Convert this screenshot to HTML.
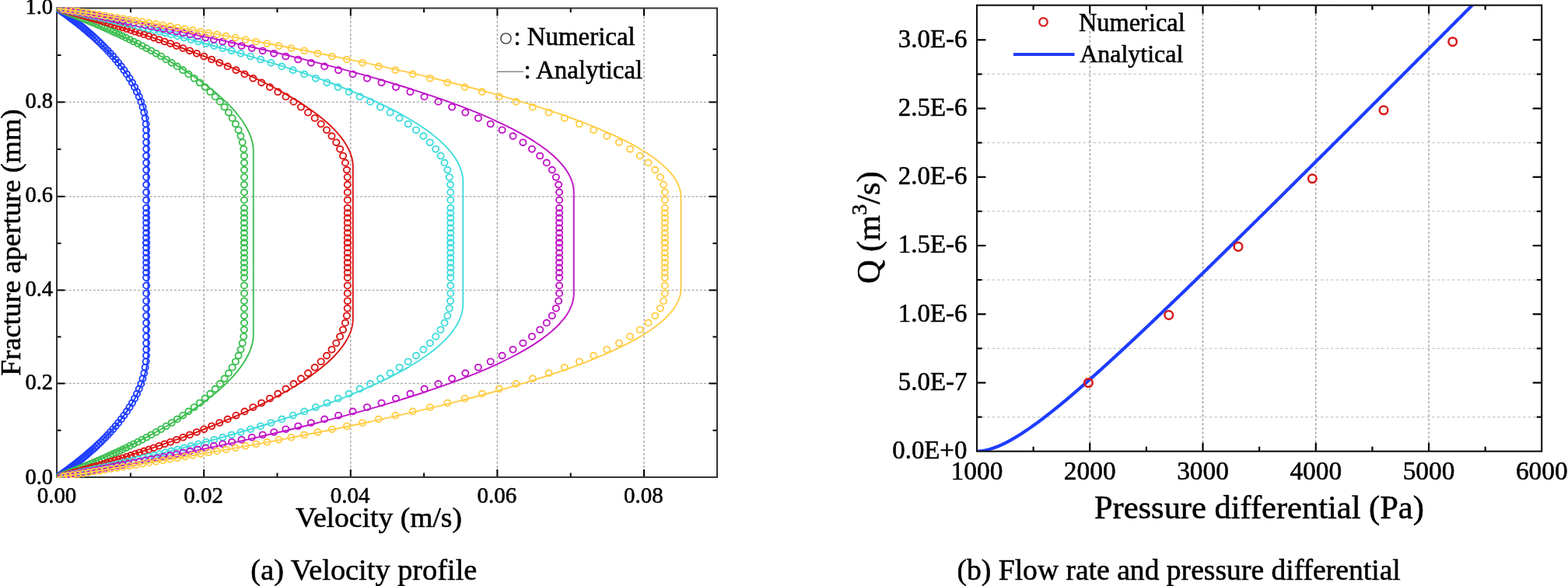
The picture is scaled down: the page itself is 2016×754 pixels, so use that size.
<!DOCTYPE html>
<html><head><meta charset="utf-8"><title>Velocity profile and flow rate</title>
<style>html,body{margin:0;padding:0;background:#fff;}body{width:2016px;height:754px;overflow:hidden;}svg{display:block;}text{fill:#000;stroke:#000;stroke-width:0.55px;}</style>
</head><body>
<svg width="2016" height="754" viewBox="0 0 2016 754" style="font-family:'Liberation Serif','Times New Roman',serif"><clipPath id="lc"><rect x="72" y="9.5" width="851" height="605.5"/></clipPath><line x1="262.20" y1="10.5" x2="262.20" y2="614" stroke="#9a9a9a" stroke-width="1.25" stroke-dasharray="3 2.4"/><line x1="450.80" y1="10.5" x2="450.80" y2="614" stroke="#9a9a9a" stroke-width="1.25" stroke-dasharray="3 2.4"/><line x1="639.40" y1="10.5" x2="639.40" y2="614" stroke="#9a9a9a" stroke-width="1.25" stroke-dasharray="3 2.4"/><line x1="828.00" y1="10.5" x2="828.00" y2="614" stroke="#9a9a9a" stroke-width="1.25" stroke-dasharray="3 2.4"/><line x1="73" y1="493.40" x2="922" y2="493.40" stroke="#a8a8a8" stroke-width="1.35" stroke-dasharray="3 2.2"/><line x1="73" y1="373.40" x2="922" y2="373.40" stroke="#a8a8a8" stroke-width="1.35" stroke-dasharray="3 2.2"/><line x1="73" y1="252.80" x2="922" y2="252.80" stroke="#a8a8a8" stroke-width="1.35" stroke-dasharray="3 2.2"/><line x1="73" y1="131.40" x2="922" y2="131.40" stroke="#a8a8a8" stroke-width="1.35" stroke-dasharray="3 2.2"/><line x1="167.90" y1="614" x2="167.90" y2="608.5" stroke="#000" stroke-width="2"/><line x1="167.90" y1="10.5" x2="167.90" y2="16.0" stroke="#000" stroke-width="2"/><line x1="262.20" y1="614" x2="262.20" y2="604" stroke="#000" stroke-width="2"/><line x1="262.20" y1="10.5" x2="262.20" y2="20.5" stroke="#000" stroke-width="2"/><line x1="356.50" y1="614" x2="356.50" y2="608.5" stroke="#000" stroke-width="2"/><line x1="356.50" y1="10.5" x2="356.50" y2="16.0" stroke="#000" stroke-width="2"/><line x1="450.80" y1="614" x2="450.80" y2="604" stroke="#000" stroke-width="2"/><line x1="450.80" y1="10.5" x2="450.80" y2="20.5" stroke="#000" stroke-width="2"/><line x1="545.10" y1="614" x2="545.10" y2="608.5" stroke="#000" stroke-width="2"/><line x1="545.10" y1="10.5" x2="545.10" y2="16.0" stroke="#000" stroke-width="2"/><line x1="639.40" y1="614" x2="639.40" y2="604" stroke="#000" stroke-width="2"/><line x1="639.40" y1="10.5" x2="639.40" y2="20.5" stroke="#000" stroke-width="2"/><line x1="733.70" y1="614" x2="733.70" y2="608.5" stroke="#000" stroke-width="2"/><line x1="733.70" y1="10.5" x2="733.70" y2="16.0" stroke="#000" stroke-width="2"/><line x1="828.00" y1="614" x2="828.00" y2="604" stroke="#000" stroke-width="2"/><line x1="828.00" y1="10.5" x2="828.00" y2="20.5" stroke="#000" stroke-width="2"/><line x1="73" y1="553.75" x2="78.5" y2="553.75" stroke="#000" stroke-width="2"/><line x1="922" y1="553.75" x2="916.5" y2="553.75" stroke="#000" stroke-width="2"/><line x1="73" y1="493.40" x2="83.5" y2="493.40" stroke="#000" stroke-width="2"/><line x1="922" y1="493.40" x2="911.5" y2="493.40" stroke="#000" stroke-width="2"/><line x1="73" y1="433.40" x2="78.5" y2="433.40" stroke="#000" stroke-width="2"/><line x1="922" y1="433.40" x2="916.5" y2="433.40" stroke="#000" stroke-width="2"/><line x1="73" y1="373.40" x2="83.5" y2="373.40" stroke="#000" stroke-width="2"/><line x1="922" y1="373.40" x2="911.5" y2="373.40" stroke="#000" stroke-width="2"/><line x1="73" y1="313.10" x2="78.5" y2="313.10" stroke="#000" stroke-width="2"/><line x1="922" y1="313.10" x2="916.5" y2="313.10" stroke="#000" stroke-width="2"/><line x1="73" y1="252.80" x2="83.5" y2="252.80" stroke="#000" stroke-width="2"/><line x1="922" y1="252.80" x2="911.5" y2="252.80" stroke="#000" stroke-width="2"/><line x1="73" y1="192.10" x2="78.5" y2="192.10" stroke="#000" stroke-width="2"/><line x1="922" y1="192.10" x2="916.5" y2="192.10" stroke="#000" stroke-width="2"/><line x1="73" y1="131.40" x2="83.5" y2="131.40" stroke="#000" stroke-width="2"/><line x1="922" y1="131.40" x2="911.5" y2="131.40" stroke="#000" stroke-width="2"/><line x1="73" y1="70.95" x2="78.5" y2="70.95" stroke="#000" stroke-width="2"/><line x1="922" y1="70.95" x2="916.5" y2="70.95" stroke="#000" stroke-width="2"/><rect x="73" y="10.5" width="849" height="603.5" fill="none" stroke="#333" stroke-width="2"/><g fill="none" stroke="#1E3CFF" stroke-width="1.85" clip-path="url(#lc)"><ellipse cx="75.3" cy="612.9" rx="4.1" ry="3.9"/><ellipse cx="76.7" cy="612.0" rx="4.1" ry="3.9"/><ellipse cx="78.0" cy="611.0" rx="4.1" ry="3.9"/><ellipse cx="79.4" cy="610.0" rx="4.1" ry="3.9"/><ellipse cx="80.9" cy="609.0" rx="4.1" ry="3.9"/><ellipse cx="82.4" cy="607.9" rx="4.1" ry="3.9"/><ellipse cx="83.9" cy="606.8" rx="4.1" ry="3.9"/><ellipse cx="85.4" cy="605.7" rx="4.1" ry="3.9"/><ellipse cx="87.0" cy="604.5" rx="4.1" ry="3.9"/><ellipse cx="88.6" cy="603.3" rx="4.1" ry="3.9"/><ellipse cx="90.2" cy="602.1" rx="4.1" ry="3.9"/><ellipse cx="91.9" cy="600.8" rx="4.1" ry="3.9"/><ellipse cx="93.6" cy="599.5" rx="4.1" ry="3.9"/><ellipse cx="95.3" cy="598.2" rx="4.1" ry="3.9"/><ellipse cx="97.1" cy="596.8" rx="4.1" ry="3.9"/><ellipse cx="98.9" cy="595.4" rx="4.1" ry="3.9"/><ellipse cx="100.8" cy="593.9" rx="4.1" ry="3.9"/><ellipse cx="102.7" cy="592.4" rx="4.1" ry="3.9"/><ellipse cx="104.6" cy="590.9" rx="4.1" ry="3.9"/><ellipse cx="106.6" cy="589.3" rx="4.1" ry="3.9"/><ellipse cx="108.5" cy="587.6" rx="4.1" ry="3.9"/><ellipse cx="110.6" cy="585.9" rx="4.1" ry="3.9"/><ellipse cx="112.6" cy="584.1" rx="4.1" ry="3.9"/><ellipse cx="114.7" cy="582.3" rx="4.1" ry="3.9"/><ellipse cx="116.9" cy="580.4" rx="4.1" ry="3.9"/><ellipse cx="119.2" cy="578.4" rx="4.1" ry="3.9"/><ellipse cx="121.7" cy="576.2" rx="4.1" ry="3.9"/><ellipse cx="124.2" cy="573.8" rx="4.1" ry="3.9"/><ellipse cx="126.9" cy="571.3" rx="4.1" ry="3.9"/><ellipse cx="129.6" cy="568.7" rx="4.1" ry="3.9"/><ellipse cx="132.5" cy="565.8" rx="4.1" ry="3.9"/><ellipse cx="135.6" cy="562.7" rx="4.1" ry="3.9"/><ellipse cx="138.7" cy="559.5" rx="4.1" ry="3.9"/><ellipse cx="141.9" cy="556.0" rx="4.1" ry="3.9"/><ellipse cx="145.3" cy="552.3" rx="4.1" ry="3.9"/><ellipse cx="148.7" cy="548.3" rx="4.1" ry="3.9"/><ellipse cx="152.2" cy="544.0" rx="4.1" ry="3.9"/><ellipse cx="155.8" cy="539.4" rx="4.1" ry="3.9"/><ellipse cx="159.4" cy="534.6" rx="4.1" ry="3.9"/><ellipse cx="163.0" cy="529.4" rx="4.1" ry="3.9"/><ellipse cx="166.5" cy="524.0" rx="4.1" ry="3.9"/><ellipse cx="169.9" cy="518.5" rx="4.1" ry="3.9"/><ellipse cx="173.1" cy="512.7" rx="4.1" ry="3.9"/><ellipse cx="176.0" cy="506.6" rx="4.1" ry="3.9"/><ellipse cx="178.8" cy="500.4" rx="4.1" ry="3.9"/><ellipse cx="181.3" cy="493.9" rx="4.1" ry="3.9"/><ellipse cx="183.5" cy="487.1" rx="4.1" ry="3.9"/><ellipse cx="185.3" cy="480.1" rx="4.1" ry="3.9"/><ellipse cx="186.7" cy="472.8" rx="4.1" ry="3.9"/><ellipse cx="187.7" cy="465.3" rx="4.1" ry="3.9"/><ellipse cx="188.1" cy="457.6" rx="4.1" ry="3.9"/><ellipse cx="188.2" cy="449.7" rx="4.1" ry="3.9"/><ellipse cx="188.2" cy="441.5" rx="4.1" ry="3.9"/><ellipse cx="188.2" cy="433.0" rx="4.1" ry="3.9"/><ellipse cx="188.2" cy="424.3" rx="4.1" ry="3.9"/><ellipse cx="188.2" cy="415.4" rx="4.1" ry="3.9"/><ellipse cx="188.2" cy="406.2" rx="4.1" ry="3.9"/><ellipse cx="188.2" cy="396.8" rx="4.1" ry="3.9"/><ellipse cx="188.2" cy="387.2" rx="4.1" ry="3.9"/><ellipse cx="188.2" cy="377.4" rx="4.1" ry="3.9"/><ellipse cx="188.2" cy="367.4" rx="4.1" ry="3.9"/><ellipse cx="188.2" cy="357.2" rx="4.1" ry="3.9"/><ellipse cx="188.2" cy="350.8" rx="4.1" ry="3.9"/><ellipse cx="188.2" cy="344.4" rx="4.1" ry="3.9"/><ellipse cx="188.2" cy="338.0" rx="4.1" ry="3.9"/><ellipse cx="188.2" cy="331.6" rx="4.1" ry="3.9"/><ellipse cx="188.2" cy="325.2" rx="4.1" ry="3.9"/><ellipse cx="188.2" cy="318.8" rx="4.1" ry="3.9"/><ellipse cx="188.2" cy="312.4" rx="4.1" ry="3.9"/><ellipse cx="75.3" cy="11.9" rx="4.1" ry="3.9"/><ellipse cx="76.7" cy="12.8" rx="4.1" ry="3.9"/><ellipse cx="78.0" cy="13.8" rx="4.1" ry="3.9"/><ellipse cx="79.4" cy="14.8" rx="4.1" ry="3.9"/><ellipse cx="80.9" cy="15.8" rx="4.1" ry="3.9"/><ellipse cx="82.4" cy="16.9" rx="4.1" ry="3.9"/><ellipse cx="83.9" cy="18.0" rx="4.1" ry="3.9"/><ellipse cx="85.4" cy="19.1" rx="4.1" ry="3.9"/><ellipse cx="87.0" cy="20.3" rx="4.1" ry="3.9"/><ellipse cx="88.6" cy="21.5" rx="4.1" ry="3.9"/><ellipse cx="90.2" cy="22.7" rx="4.1" ry="3.9"/><ellipse cx="91.9" cy="24.0" rx="4.1" ry="3.9"/><ellipse cx="93.6" cy="25.3" rx="4.1" ry="3.9"/><ellipse cx="95.3" cy="26.6" rx="4.1" ry="3.9"/><ellipse cx="97.1" cy="28.0" rx="4.1" ry="3.9"/><ellipse cx="98.9" cy="29.4" rx="4.1" ry="3.9"/><ellipse cx="100.8" cy="30.9" rx="4.1" ry="3.9"/><ellipse cx="102.7" cy="32.4" rx="4.1" ry="3.9"/><ellipse cx="104.6" cy="33.9" rx="4.1" ry="3.9"/><ellipse cx="106.6" cy="35.5" rx="4.1" ry="3.9"/><ellipse cx="108.5" cy="37.2" rx="4.1" ry="3.9"/><ellipse cx="110.6" cy="38.9" rx="4.1" ry="3.9"/><ellipse cx="112.6" cy="40.7" rx="4.1" ry="3.9"/><ellipse cx="114.7" cy="42.5" rx="4.1" ry="3.9"/><ellipse cx="116.9" cy="44.4" rx="4.1" ry="3.9"/><ellipse cx="119.2" cy="46.4" rx="4.1" ry="3.9"/><ellipse cx="121.7" cy="48.6" rx="4.1" ry="3.9"/><ellipse cx="124.2" cy="51.0" rx="4.1" ry="3.9"/><ellipse cx="126.9" cy="53.5" rx="4.1" ry="3.9"/><ellipse cx="129.6" cy="56.1" rx="4.1" ry="3.9"/><ellipse cx="132.5" cy="59.0" rx="4.1" ry="3.9"/><ellipse cx="135.6" cy="62.1" rx="4.1" ry="3.9"/><ellipse cx="138.7" cy="65.3" rx="4.1" ry="3.9"/><ellipse cx="141.9" cy="68.8" rx="4.1" ry="3.9"/><ellipse cx="145.3" cy="72.5" rx="4.1" ry="3.9"/><ellipse cx="148.7" cy="76.5" rx="4.1" ry="3.9"/><ellipse cx="152.2" cy="80.8" rx="4.1" ry="3.9"/><ellipse cx="155.8" cy="85.4" rx="4.1" ry="3.9"/><ellipse cx="159.4" cy="90.2" rx="4.1" ry="3.9"/><ellipse cx="163.0" cy="95.4" rx="4.1" ry="3.9"/><ellipse cx="166.5" cy="100.8" rx="4.1" ry="3.9"/><ellipse cx="169.9" cy="106.3" rx="4.1" ry="3.9"/><ellipse cx="173.1" cy="112.1" rx="4.1" ry="3.9"/><ellipse cx="176.0" cy="118.2" rx="4.1" ry="3.9"/><ellipse cx="178.8" cy="124.4" rx="4.1" ry="3.9"/><ellipse cx="181.3" cy="130.9" rx="4.1" ry="3.9"/><ellipse cx="183.5" cy="137.7" rx="4.1" ry="3.9"/><ellipse cx="185.3" cy="144.7" rx="4.1" ry="3.9"/><ellipse cx="186.7" cy="152.0" rx="4.1" ry="3.9"/><ellipse cx="187.7" cy="159.5" rx="4.1" ry="3.9"/><ellipse cx="188.1" cy="167.2" rx="4.1" ry="3.9"/><ellipse cx="188.2" cy="175.1" rx="4.1" ry="3.9"/><ellipse cx="188.2" cy="183.3" rx="4.1" ry="3.9"/><ellipse cx="188.2" cy="191.8" rx="4.1" ry="3.9"/><ellipse cx="188.2" cy="200.5" rx="4.1" ry="3.9"/><ellipse cx="188.2" cy="209.4" rx="4.1" ry="3.9"/><ellipse cx="188.2" cy="218.6" rx="4.1" ry="3.9"/><ellipse cx="188.2" cy="228.0" rx="4.1" ry="3.9"/><ellipse cx="188.2" cy="237.6" rx="4.1" ry="3.9"/><ellipse cx="188.2" cy="247.4" rx="4.1" ry="3.9"/><ellipse cx="188.2" cy="257.4" rx="4.1" ry="3.9"/><ellipse cx="188.2" cy="267.6" rx="4.1" ry="3.9"/><ellipse cx="188.2" cy="274.0" rx="4.1" ry="3.9"/><ellipse cx="188.2" cy="280.4" rx="4.1" ry="3.9"/><ellipse cx="188.2" cy="286.8" rx="4.1" ry="3.9"/><ellipse cx="188.2" cy="293.2" rx="4.1" ry="3.9"/><ellipse cx="188.2" cy="299.6" rx="4.1" ry="3.9"/><ellipse cx="188.2" cy="306.0" rx="4.1" ry="3.9"/><ellipse cx="188.2" cy="312.4" rx="4.1" ry="3.9"/></g><path d="M73.60 614.10L75.74 612.59L77.86 611.08L79.96 609.57L82.04 608.07L84.10 606.56L86.14 605.05L88.16 603.54L90.16 602.03L92.15 600.52L94.11 599.01L96.05 597.51L97.97 596.00L99.87 594.49L101.76 592.98L103.62 591.47L105.46 589.96L107.29 588.46L109.09 586.95L110.87 585.44L112.64 583.93L114.38 582.42L116.11 580.91L117.81 579.40L119.50 577.90L121.16 576.39L122.81 574.88L124.43 573.37L126.04 571.86L127.63 570.35L129.19 568.85L130.74 567.34L132.27 565.83L133.78 564.32L135.26 562.81L136.73 561.30L138.18 559.79L139.61 558.29L141.02 556.78L142.41 555.27L143.77 553.76L145.12 552.25L146.45 550.74L147.76 549.23L149.05 547.73L150.32 546.22L151.57 544.71L152.80 543.20L154.02 541.69L155.21 540.18L156.38 538.68L157.53 537.17L158.66 535.66L159.77 534.15L160.87 532.64L161.94 531.13L162.99 529.62L164.03 528.12L165.04 526.61L166.03 525.10L167.01 523.59L167.96 522.08L168.90 520.57L169.81 519.06L170.71 517.56L171.58 516.05L172.44 514.54L173.27 513.03L174.09 511.52L174.88 510.01L175.66 508.51L176.42 507.00L177.15 505.49L177.87 503.98L178.57 502.47L179.25 500.96L179.90 499.45L180.54 497.95L181.16 496.44L181.76 494.93L182.34 493.42L182.90 491.91L183.44 490.40L183.96 488.89L184.46 487.39L184.94 485.88L185.40 484.37L185.84 482.86L186.26 481.35L186.66 479.84L187.04 478.34L187.40 476.83L187.74 475.32L188.07 473.81L188.37 472.30L188.65 470.79L188.91 469.28L189.16 467.78L189.38 466.27L189.58 464.76L189.77 463.25L189.93 461.74L190.08 460.23L190.20 458.72L190.30 457.22L190.39 455.71L190.45 454.20L190.50 452.69L190.53 451.18L190.53 449.67L190.53 448.17L190.53 446.66L190.53 445.15L190.53 443.64L190.53 442.13L190.53 440.62L190.53 439.11L190.53 437.61L190.53 436.10L190.53 434.59L190.53 433.08L190.53 431.57L190.53 430.06L190.53 428.55L190.53 427.05L190.53 425.54L190.53 424.03L190.53 422.52L190.53 421.01L190.53 419.50L190.53 418.00L190.53 416.49L190.53 414.98L190.53 413.47L190.53 411.96L190.53 410.45L190.53 408.94L190.53 407.44L190.53 405.93L190.53 404.42L190.53 402.91L190.53 401.40L190.53 399.89L190.53 398.38L190.53 396.88L190.53 395.37L190.53 393.86L190.53 392.35L190.53 390.84L190.53 389.33L190.53 387.83L190.53 386.32L190.53 384.81L190.53 383.30L190.53 381.79L190.53 380.28L190.53 378.77L190.53 377.27L190.53 375.76L190.53 374.25L190.53 372.74L190.53 371.23L190.53 369.72L190.53 368.21L190.53 366.71L190.53 365.20L190.53 363.69L190.53 362.18L190.53 360.67L190.53 359.16L190.53 357.66L190.53 356.15L190.53 354.64L190.53 353.13L190.53 351.62L190.53 350.11L190.53 348.60L190.53 347.10L190.53 345.59L190.53 344.08L190.53 342.57L190.53 341.06L190.53 339.55L190.53 338.04L190.53 336.54L190.53 335.03L190.53 333.52L190.53 332.01L190.53 330.50L190.53 328.99L190.53 327.49L190.53 325.98L190.53 324.47L190.53 322.96L190.53 321.45L190.53 319.94L190.53 318.43L190.53 316.93L190.53 315.42L190.53 313.91L190.53 312.40L190.53 310.89L190.53 309.38L190.53 307.87L190.53 306.37L190.53 304.86L190.53 303.35L190.53 301.84L190.53 300.33L190.53 298.82L190.53 297.31L190.53 295.81L190.53 294.30L190.53 292.79L190.53 291.28L190.53 289.77L190.53 288.26L190.53 286.76L190.53 285.25L190.53 283.74L190.53 282.23L190.53 280.72L190.53 279.21L190.53 277.70L190.53 276.20L190.53 274.69L190.53 273.18L190.53 271.67L190.53 270.16L190.53 268.65L190.53 267.15L190.53 265.64L190.53 264.13L190.53 262.62L190.53 261.11L190.53 259.60L190.53 258.09L190.53 256.59L190.53 255.08L190.53 253.57L190.53 252.06L190.53 250.55L190.53 249.04L190.53 247.53L190.53 246.03L190.53 244.52L190.53 243.01L190.53 241.50L190.53 239.99L190.53 238.48L190.53 236.98L190.53 235.47L190.53 233.96L190.53 232.45L190.53 230.94L190.53 229.43L190.53 227.92L190.53 226.42L190.53 224.91L190.53 223.40L190.53 221.89L190.53 220.38L190.53 218.87L190.53 217.36L190.53 215.86L190.53 214.35L190.53 212.84L190.53 211.33L190.53 209.82L190.53 208.31L190.53 206.81L190.53 205.30L190.53 203.79L190.53 202.28L190.53 200.77L190.53 199.26L190.53 197.75L190.53 196.25L190.53 194.74L190.53 193.23L190.53 191.72L190.53 190.21L190.53 188.70L190.53 187.19L190.53 185.69L190.53 184.18L190.53 182.67L190.53 181.16L190.53 179.65L190.53 178.14L190.53 176.64L190.53 175.13L190.53 173.62L190.50 172.11L190.45 170.60L190.39 169.09L190.30 167.58L190.20 166.08L190.08 164.57L189.93 163.06L189.77 161.55L189.58 160.04L189.38 158.53L189.16 157.02L188.91 155.52L188.65 154.01L188.37 152.50L188.07 150.99L187.74 149.48L187.40 147.97L187.04 146.47L186.66 144.96L186.26 143.45L185.84 141.94L185.40 140.43L184.94 138.92L184.46 137.41L183.96 135.91L183.44 134.40L182.90 132.89L182.34 131.38L181.76 129.87L181.16 128.36L180.54 126.85L179.90 125.35L179.25 123.84L178.57 122.33L177.87 120.82L177.15 119.31L176.42 117.80L175.66 116.30L174.88 114.79L174.09 113.28L173.27 111.77L172.44 110.26L171.58 108.75L170.71 107.24L169.81 105.74L168.90 104.23L167.96 102.72L167.01 101.21L166.03 99.70L165.04 98.19L164.03 96.68L162.99 95.18L161.94 93.67L160.87 92.16L159.77 90.65L158.66 89.14L157.53 87.63L156.38 86.12L155.21 84.62L154.02 83.11L152.80 81.60L151.57 80.09L150.32 78.58L149.05 77.07L147.76 75.57L146.45 74.06L145.12 72.55L143.77 71.04L142.41 69.53L141.02 68.02L139.61 66.51L138.18 65.01L136.73 63.50L135.26 61.99L133.78 60.48L132.27 58.97L130.74 57.46L129.19 55.96L127.63 54.45L126.04 52.94L124.43 51.43L122.81 49.92L121.16 48.41L119.50 46.90L117.81 45.40L116.11 43.89L114.38 42.38L112.64 40.87L110.87 39.36L109.09 37.85L107.29 36.34L105.46 34.84L103.62 33.33L101.76 31.82L99.87 30.31L97.97 28.80L96.05 27.29L94.11 25.79L92.15 24.28L90.16 22.77L88.16 21.26L86.14 19.75L84.10 18.24L82.04 16.73L79.96 15.23L77.86 13.72L75.74 12.21L73.60 10.70" fill="none" stroke="#1E3CFF" stroke-width="1.9"/><g fill="none" stroke="#3CBE50" stroke-width="1.85" clip-path="url(#lc)"><ellipse cx="76.7" cy="612.9" rx="4.1" ry="3.9"/><ellipse cx="79.2" cy="612.0" rx="4.1" ry="3.9"/><ellipse cx="81.7" cy="611.0" rx="4.1" ry="3.9"/><ellipse cx="84.2" cy="610.0" rx="4.1" ry="3.9"/><ellipse cx="86.9" cy="609.0" rx="4.1" ry="3.9"/><ellipse cx="89.5" cy="607.9" rx="4.1" ry="3.9"/><ellipse cx="92.3" cy="606.8" rx="4.1" ry="3.9"/><ellipse cx="95.1" cy="605.7" rx="4.1" ry="3.9"/><ellipse cx="98.0" cy="604.5" rx="4.1" ry="3.9"/><ellipse cx="100.9" cy="603.3" rx="4.1" ry="3.9"/><ellipse cx="103.9" cy="602.1" rx="4.1" ry="3.9"/><ellipse cx="107.0" cy="600.8" rx="4.1" ry="3.9"/><ellipse cx="110.1" cy="599.5" rx="4.1" ry="3.9"/><ellipse cx="113.3" cy="598.2" rx="4.1" ry="3.9"/><ellipse cx="116.6" cy="596.8" rx="4.1" ry="3.9"/><ellipse cx="119.9" cy="595.4" rx="4.1" ry="3.9"/><ellipse cx="123.4" cy="593.9" rx="4.1" ry="3.9"/><ellipse cx="126.8" cy="592.4" rx="4.1" ry="3.9"/><ellipse cx="130.4" cy="590.9" rx="4.1" ry="3.9"/><ellipse cx="134.0" cy="589.3" rx="4.1" ry="3.9"/><ellipse cx="137.7" cy="587.6" rx="4.1" ry="3.9"/><ellipse cx="141.5" cy="585.9" rx="4.1" ry="3.9"/><ellipse cx="145.3" cy="584.1" rx="4.1" ry="3.9"/><ellipse cx="149.2" cy="582.3" rx="4.1" ry="3.9"/><ellipse cx="153.3" cy="580.4" rx="4.1" ry="3.9"/><ellipse cx="157.6" cy="578.4" rx="4.1" ry="3.9"/><ellipse cx="162.1" cy="576.2" rx="4.1" ry="3.9"/><ellipse cx="166.9" cy="573.8" rx="4.1" ry="3.9"/><ellipse cx="171.9" cy="571.3" rx="4.1" ry="3.9"/><ellipse cx="177.2" cy="568.7" rx="4.1" ry="3.9"/><ellipse cx="182.7" cy="565.8" rx="4.1" ry="3.9"/><ellipse cx="188.4" cy="562.7" rx="4.1" ry="3.9"/><ellipse cx="194.4" cy="559.5" rx="4.1" ry="3.9"/><ellipse cx="200.7" cy="556.0" rx="4.1" ry="3.9"/><ellipse cx="207.1" cy="552.3" rx="4.1" ry="3.9"/><ellipse cx="213.8" cy="548.3" rx="4.1" ry="3.9"/><ellipse cx="220.7" cy="544.0" rx="4.1" ry="3.9"/><ellipse cx="227.8" cy="539.4" rx="4.1" ry="3.9"/><ellipse cx="235.1" cy="534.6" rx="4.1" ry="3.9"/><ellipse cx="242.4" cy="529.4" rx="4.1" ry="3.9"/><ellipse cx="249.7" cy="524.0" rx="4.1" ry="3.9"/><ellipse cx="256.7" cy="518.5" rx="4.1" ry="3.9"/><ellipse cx="263.6" cy="512.7" rx="4.1" ry="3.9"/><ellipse cx="270.3" cy="506.6" rx="4.1" ry="3.9"/><ellipse cx="276.7" cy="500.4" rx="4.1" ry="3.9"/><ellipse cx="282.8" cy="493.9" rx="4.1" ry="3.9"/><ellipse cx="288.6" cy="487.1" rx="4.1" ry="3.9"/><ellipse cx="293.9" cy="480.1" rx="4.1" ry="3.9"/><ellipse cx="298.7" cy="472.8" rx="4.1" ry="3.9"/><ellipse cx="302.9" cy="465.3" rx="4.1" ry="3.9"/><ellipse cx="306.6" cy="457.6" rx="4.1" ry="3.9"/><ellipse cx="309.5" cy="449.7" rx="4.1" ry="3.9"/><ellipse cx="311.7" cy="441.5" rx="4.1" ry="3.9"/><ellipse cx="313.2" cy="433.0" rx="4.1" ry="3.9"/><ellipse cx="313.9" cy="424.3" rx="4.1" ry="3.9"/><ellipse cx="314.0" cy="415.4" rx="4.1" ry="3.9"/><ellipse cx="314.0" cy="406.2" rx="4.1" ry="3.9"/><ellipse cx="314.0" cy="396.8" rx="4.1" ry="3.9"/><ellipse cx="314.0" cy="387.2" rx="4.1" ry="3.9"/><ellipse cx="314.0" cy="377.4" rx="4.1" ry="3.9"/><ellipse cx="314.0" cy="367.4" rx="4.1" ry="3.9"/><ellipse cx="314.0" cy="357.2" rx="4.1" ry="3.9"/><ellipse cx="314.0" cy="350.8" rx="4.1" ry="3.9"/><ellipse cx="314.0" cy="344.4" rx="4.1" ry="3.9"/><ellipse cx="314.0" cy="338.0" rx="4.1" ry="3.9"/><ellipse cx="314.0" cy="331.6" rx="4.1" ry="3.9"/><ellipse cx="314.0" cy="325.2" rx="4.1" ry="3.9"/><ellipse cx="314.0" cy="318.8" rx="4.1" ry="3.9"/><ellipse cx="314.0" cy="312.4" rx="4.1" ry="3.9"/><ellipse cx="76.7" cy="11.9" rx="4.1" ry="3.9"/><ellipse cx="79.2" cy="12.8" rx="4.1" ry="3.9"/><ellipse cx="81.7" cy="13.8" rx="4.1" ry="3.9"/><ellipse cx="84.2" cy="14.8" rx="4.1" ry="3.9"/><ellipse cx="86.9" cy="15.8" rx="4.1" ry="3.9"/><ellipse cx="89.5" cy="16.9" rx="4.1" ry="3.9"/><ellipse cx="92.3" cy="18.0" rx="4.1" ry="3.9"/><ellipse cx="95.1" cy="19.1" rx="4.1" ry="3.9"/><ellipse cx="98.0" cy="20.3" rx="4.1" ry="3.9"/><ellipse cx="100.9" cy="21.5" rx="4.1" ry="3.9"/><ellipse cx="103.9" cy="22.7" rx="4.1" ry="3.9"/><ellipse cx="107.0" cy="24.0" rx="4.1" ry="3.9"/><ellipse cx="110.1" cy="25.3" rx="4.1" ry="3.9"/><ellipse cx="113.3" cy="26.6" rx="4.1" ry="3.9"/><ellipse cx="116.6" cy="28.0" rx="4.1" ry="3.9"/><ellipse cx="119.9" cy="29.4" rx="4.1" ry="3.9"/><ellipse cx="123.4" cy="30.9" rx="4.1" ry="3.9"/><ellipse cx="126.8" cy="32.4" rx="4.1" ry="3.9"/><ellipse cx="130.4" cy="33.9" rx="4.1" ry="3.9"/><ellipse cx="134.0" cy="35.5" rx="4.1" ry="3.9"/><ellipse cx="137.7" cy="37.2" rx="4.1" ry="3.9"/><ellipse cx="141.5" cy="38.9" rx="4.1" ry="3.9"/><ellipse cx="145.3" cy="40.7" rx="4.1" ry="3.9"/><ellipse cx="149.2" cy="42.5" rx="4.1" ry="3.9"/><ellipse cx="153.3" cy="44.4" rx="4.1" ry="3.9"/><ellipse cx="157.6" cy="46.4" rx="4.1" ry="3.9"/><ellipse cx="162.1" cy="48.6" rx="4.1" ry="3.9"/><ellipse cx="166.9" cy="51.0" rx="4.1" ry="3.9"/><ellipse cx="171.9" cy="53.5" rx="4.1" ry="3.9"/><ellipse cx="177.2" cy="56.1" rx="4.1" ry="3.9"/><ellipse cx="182.7" cy="59.0" rx="4.1" ry="3.9"/><ellipse cx="188.4" cy="62.1" rx="4.1" ry="3.9"/><ellipse cx="194.4" cy="65.3" rx="4.1" ry="3.9"/><ellipse cx="200.7" cy="68.8" rx="4.1" ry="3.9"/><ellipse cx="207.1" cy="72.5" rx="4.1" ry="3.9"/><ellipse cx="213.8" cy="76.5" rx="4.1" ry="3.9"/><ellipse cx="220.7" cy="80.8" rx="4.1" ry="3.9"/><ellipse cx="227.8" cy="85.4" rx="4.1" ry="3.9"/><ellipse cx="235.1" cy="90.2" rx="4.1" ry="3.9"/><ellipse cx="242.4" cy="95.4" rx="4.1" ry="3.9"/><ellipse cx="249.7" cy="100.8" rx="4.1" ry="3.9"/><ellipse cx="256.7" cy="106.3" rx="4.1" ry="3.9"/><ellipse cx="263.6" cy="112.1" rx="4.1" ry="3.9"/><ellipse cx="270.3" cy="118.2" rx="4.1" ry="3.9"/><ellipse cx="276.7" cy="124.4" rx="4.1" ry="3.9"/><ellipse cx="282.8" cy="130.9" rx="4.1" ry="3.9"/><ellipse cx="288.6" cy="137.7" rx="4.1" ry="3.9"/><ellipse cx="293.9" cy="144.7" rx="4.1" ry="3.9"/><ellipse cx="298.7" cy="152.0" rx="4.1" ry="3.9"/><ellipse cx="302.9" cy="159.5" rx="4.1" ry="3.9"/><ellipse cx="306.6" cy="167.2" rx="4.1" ry="3.9"/><ellipse cx="309.5" cy="175.1" rx="4.1" ry="3.9"/><ellipse cx="311.7" cy="183.3" rx="4.1" ry="3.9"/><ellipse cx="313.2" cy="191.8" rx="4.1" ry="3.9"/><ellipse cx="313.9" cy="200.5" rx="4.1" ry="3.9"/><ellipse cx="314.0" cy="209.4" rx="4.1" ry="3.9"/><ellipse cx="314.0" cy="218.6" rx="4.1" ry="3.9"/><ellipse cx="314.0" cy="228.0" rx="4.1" ry="3.9"/><ellipse cx="314.0" cy="237.6" rx="4.1" ry="3.9"/><ellipse cx="314.0" cy="247.4" rx="4.1" ry="3.9"/><ellipse cx="314.0" cy="257.4" rx="4.1" ry="3.9"/><ellipse cx="314.0" cy="267.6" rx="4.1" ry="3.9"/><ellipse cx="314.0" cy="274.0" rx="4.1" ry="3.9"/><ellipse cx="314.0" cy="280.4" rx="4.1" ry="3.9"/><ellipse cx="314.0" cy="286.8" rx="4.1" ry="3.9"/><ellipse cx="314.0" cy="293.2" rx="4.1" ry="3.9"/><ellipse cx="314.0" cy="299.6" rx="4.1" ry="3.9"/><ellipse cx="314.0" cy="306.0" rx="4.1" ry="3.9"/><ellipse cx="314.0" cy="312.4" rx="4.1" ry="3.9"/></g><path d="M73.60 614.10L77.39 612.59L81.15 611.08L84.88 609.57L88.59 608.07L92.27 606.56L95.93 605.05L99.56 603.54L103.16 602.03L106.74 600.52L110.29 599.01L113.82 597.51L117.32 596.00L120.79 594.49L124.24 592.98L127.66 591.47L131.05 589.96L134.42 588.46L137.76 586.95L141.07 585.44L144.36 583.93L147.62 582.42L150.85 580.91L154.06 579.40L157.24 577.90L160.40 576.39L163.52 574.88L166.62 573.37L169.70 571.86L172.74 570.35L175.76 568.85L178.75 567.34L181.71 565.83L184.65 564.32L187.56 562.81L190.44 561.30L193.30 559.79L196.12 558.29L198.92 556.78L201.70 555.27L204.44 553.76L207.16 552.25L209.85 550.74L212.51 549.23L215.14 547.73L217.74 546.22L220.32 544.71L222.87 543.20L225.39 541.69L227.88 540.18L230.35 538.68L232.78 537.17L235.19 535.66L237.57 534.15L239.92 532.64L242.24 531.13L244.53 529.62L246.80 528.12L249.03 526.61L251.24 525.10L253.41 523.59L255.56 522.08L257.68 520.57L259.77 519.06L261.83 517.56L263.86 516.05L265.86 514.54L267.83 513.03L269.77 511.52L271.68 510.01L273.56 508.51L275.41 507.00L277.23 505.49L279.02 503.98L280.78 502.47L282.51 500.96L284.21 499.45L285.88 497.95L287.51 496.44L289.12 494.93L290.69 493.42L292.24 491.91L293.75 490.40L295.23 488.89L296.68 487.39L298.10 485.88L299.48 484.37L300.83 482.86L302.15 481.35L303.44 479.84L304.70 478.34L305.92 476.83L307.11 475.32L308.26 473.81L309.39 472.30L310.47 470.79L311.53 469.28L312.55 467.78L313.53 466.27L314.49 464.76L315.40 463.25L316.28 461.74L317.13 460.23L317.94 458.72L318.71 457.22L319.45 455.71L320.15 454.20L320.81 452.69L321.44 451.18L322.02 449.67L322.57 448.17L323.08 446.66L323.55 445.15L323.98 443.64L324.36 442.13L324.70 440.62L325.00 439.11L325.25 437.61L325.46 436.10L325.62 434.59L325.72 433.08L325.76 431.57L325.76 430.06L325.76 428.55L325.76 427.05L325.76 425.54L325.76 424.03L325.76 422.52L325.76 421.01L325.76 419.50L325.76 418.00L325.76 416.49L325.76 414.98L325.76 413.47L325.76 411.96L325.76 410.45L325.76 408.94L325.76 407.44L325.76 405.93L325.76 404.42L325.76 402.91L325.76 401.40L325.76 399.89L325.76 398.38L325.76 396.88L325.76 395.37L325.76 393.86L325.76 392.35L325.76 390.84L325.76 389.33L325.76 387.83L325.76 386.32L325.76 384.81L325.76 383.30L325.76 381.79L325.76 380.28L325.76 378.77L325.76 377.27L325.76 375.76L325.76 374.25L325.76 372.74L325.76 371.23L325.76 369.72L325.76 368.21L325.76 366.71L325.76 365.20L325.76 363.69L325.76 362.18L325.76 360.67L325.76 359.16L325.76 357.66L325.76 356.15L325.76 354.64L325.76 353.13L325.76 351.62L325.76 350.11L325.76 348.60L325.76 347.10L325.76 345.59L325.76 344.08L325.76 342.57L325.76 341.06L325.76 339.55L325.76 338.04L325.76 336.54L325.76 335.03L325.76 333.52L325.76 332.01L325.76 330.50L325.76 328.99L325.76 327.49L325.76 325.98L325.76 324.47L325.76 322.96L325.76 321.45L325.76 319.94L325.76 318.43L325.76 316.93L325.76 315.42L325.76 313.91L325.76 312.40L325.76 310.89L325.76 309.38L325.76 307.87L325.76 306.37L325.76 304.86L325.76 303.35L325.76 301.84L325.76 300.33L325.76 298.82L325.76 297.31L325.76 295.81L325.76 294.30L325.76 292.79L325.76 291.28L325.76 289.77L325.76 288.26L325.76 286.76L325.76 285.25L325.76 283.74L325.76 282.23L325.76 280.72L325.76 279.21L325.76 277.70L325.76 276.20L325.76 274.69L325.76 273.18L325.76 271.67L325.76 270.16L325.76 268.65L325.76 267.15L325.76 265.64L325.76 264.13L325.76 262.62L325.76 261.11L325.76 259.60L325.76 258.09L325.76 256.59L325.76 255.08L325.76 253.57L325.76 252.06L325.76 250.55L325.76 249.04L325.76 247.53L325.76 246.03L325.76 244.52L325.76 243.01L325.76 241.50L325.76 239.99L325.76 238.48L325.76 236.98L325.76 235.47L325.76 233.96L325.76 232.45L325.76 230.94L325.76 229.43L325.76 227.92L325.76 226.42L325.76 224.91L325.76 223.40L325.76 221.89L325.76 220.38L325.76 218.87L325.76 217.36L325.76 215.86L325.76 214.35L325.76 212.84L325.76 211.33L325.76 209.82L325.76 208.31L325.76 206.81L325.76 205.30L325.76 203.79L325.76 202.28L325.76 200.77L325.76 199.26L325.76 197.75L325.76 196.25L325.76 194.74L325.76 193.23L325.72 191.72L325.62 190.21L325.46 188.70L325.25 187.19L325.00 185.69L324.70 184.18L324.36 182.67L323.98 181.16L323.55 179.65L323.08 178.14L322.57 176.64L322.02 175.13L321.44 173.62L320.81 172.11L320.15 170.60L319.45 169.09L318.71 167.58L317.94 166.08L317.13 164.57L316.28 163.06L315.40 161.55L314.49 160.04L313.53 158.53L312.55 157.02L311.53 155.52L310.47 154.01L309.39 152.50L308.26 150.99L307.11 149.48L305.92 147.97L304.70 146.47L303.44 144.96L302.15 143.45L300.83 141.94L299.48 140.43L298.10 138.92L296.68 137.41L295.23 135.91L293.75 134.40L292.24 132.89L290.69 131.38L289.12 129.87L287.51 128.36L285.88 126.85L284.21 125.35L282.51 123.84L280.78 122.33L279.02 120.82L277.23 119.31L275.41 117.80L273.56 116.30L271.68 114.79L269.77 113.28L267.83 111.77L265.86 110.26L263.86 108.75L261.83 107.24L259.77 105.74L257.68 104.23L255.56 102.72L253.41 101.21L251.24 99.70L249.03 98.19L246.80 96.68L244.53 95.18L242.24 93.67L239.92 92.16L237.57 90.65L235.19 89.14L232.78 87.63L230.35 86.12L227.88 84.62L225.39 83.11L222.87 81.60L220.32 80.09L217.74 78.58L215.14 77.07L212.51 75.57L209.85 74.06L207.16 72.55L204.44 71.04L201.70 69.53L198.92 68.02L196.12 66.51L193.30 65.01L190.44 63.50L187.56 61.99L184.65 60.48L181.71 58.97L178.75 57.46L175.76 55.96L172.74 54.45L169.70 52.94L166.62 51.43L163.52 49.92L160.40 48.41L157.24 46.90L154.06 45.40L150.85 43.89L147.62 42.38L144.36 40.87L141.07 39.36L137.76 37.85L134.42 36.34L131.05 34.84L127.66 33.33L124.24 31.82L120.79 30.31L117.32 28.80L113.82 27.29L110.29 25.79L106.74 24.28L103.16 22.77L99.56 21.26L95.93 19.75L92.27 18.24L88.59 16.73L84.88 15.23L81.15 13.72L77.39 12.21L73.60 10.70" fill="none" stroke="#3CBE50" stroke-width="1.9"/><g fill="none" stroke="#DC1414" stroke-width="1.85" clip-path="url(#lc)"><ellipse cx="78.0" cy="612.9" rx="4.1" ry="3.9"/><ellipse cx="81.3" cy="612.0" rx="4.1" ry="3.9"/><ellipse cx="84.8" cy="611.0" rx="4.1" ry="3.9"/><ellipse cx="88.4" cy="610.0" rx="4.1" ry="3.9"/><ellipse cx="92.0" cy="609.0" rx="4.1" ry="3.9"/><ellipse cx="95.7" cy="607.9" rx="4.1" ry="3.9"/><ellipse cx="99.6" cy="606.8" rx="4.1" ry="3.9"/><ellipse cx="103.5" cy="605.7" rx="4.1" ry="3.9"/><ellipse cx="107.5" cy="604.5" rx="4.1" ry="3.9"/><ellipse cx="111.6" cy="603.3" rx="4.1" ry="3.9"/><ellipse cx="115.8" cy="602.1" rx="4.1" ry="3.9"/><ellipse cx="120.1" cy="600.8" rx="4.1" ry="3.9"/><ellipse cx="124.4" cy="599.5" rx="4.1" ry="3.9"/><ellipse cx="128.9" cy="598.2" rx="4.1" ry="3.9"/><ellipse cx="133.5" cy="596.8" rx="4.1" ry="3.9"/><ellipse cx="138.2" cy="595.4" rx="4.1" ry="3.9"/><ellipse cx="143.0" cy="593.9" rx="4.1" ry="3.9"/><ellipse cx="147.9" cy="592.4" rx="4.1" ry="3.9"/><ellipse cx="152.9" cy="590.9" rx="4.1" ry="3.9"/><ellipse cx="157.9" cy="589.3" rx="4.1" ry="3.9"/><ellipse cx="163.1" cy="587.6" rx="4.1" ry="3.9"/><ellipse cx="168.4" cy="585.9" rx="4.1" ry="3.9"/><ellipse cx="173.8" cy="584.1" rx="4.1" ry="3.9"/><ellipse cx="179.3" cy="582.3" rx="4.1" ry="3.9"/><ellipse cx="185.1" cy="580.4" rx="4.1" ry="3.9"/><ellipse cx="191.2" cy="578.4" rx="4.1" ry="3.9"/><ellipse cx="197.7" cy="576.2" rx="4.1" ry="3.9"/><ellipse cx="204.5" cy="573.8" rx="4.1" ry="3.9"/><ellipse cx="211.6" cy="571.3" rx="4.1" ry="3.9"/><ellipse cx="219.1" cy="568.7" rx="4.1" ry="3.9"/><ellipse cx="227.0" cy="565.8" rx="4.1" ry="3.9"/><ellipse cx="235.3" cy="562.7" rx="4.1" ry="3.9"/><ellipse cx="243.9" cy="559.5" rx="4.1" ry="3.9"/><ellipse cx="252.9" cy="556.0" rx="4.1" ry="3.9"/><ellipse cx="262.3" cy="552.3" rx="4.1" ry="3.9"/><ellipse cx="272.1" cy="548.3" rx="4.1" ry="3.9"/><ellipse cx="282.2" cy="544.0" rx="4.1" ry="3.9"/><ellipse cx="292.7" cy="539.4" rx="4.1" ry="3.9"/><ellipse cx="303.5" cy="534.6" rx="4.1" ry="3.9"/><ellipse cx="314.5" cy="529.4" rx="4.1" ry="3.9"/><ellipse cx="325.4" cy="524.0" rx="4.1" ry="3.9"/><ellipse cx="336.2" cy="518.5" rx="4.1" ry="3.9"/><ellipse cx="346.9" cy="512.7" rx="4.1" ry="3.9"/><ellipse cx="357.3" cy="506.6" rx="4.1" ry="3.9"/><ellipse cx="367.5" cy="500.4" rx="4.1" ry="3.9"/><ellipse cx="377.5" cy="493.9" rx="4.1" ry="3.9"/><ellipse cx="387.0" cy="487.1" rx="4.1" ry="3.9"/><ellipse cx="396.1" cy="480.1" rx="4.1" ry="3.9"/><ellipse cx="404.7" cy="472.8" rx="4.1" ry="3.9"/><ellipse cx="412.7" cy="465.3" rx="4.1" ry="3.9"/><ellipse cx="420.0" cy="457.6" rx="4.1" ry="3.9"/><ellipse cx="426.5" cy="449.7" rx="4.1" ry="3.9"/><ellipse cx="432.3" cy="441.5" rx="4.1" ry="3.9"/><ellipse cx="437.1" cy="433.0" rx="4.1" ry="3.9"/><ellipse cx="441.0" cy="424.3" rx="4.1" ry="3.9"/><ellipse cx="443.9" cy="415.4" rx="4.1" ry="3.9"/><ellipse cx="445.9" cy="406.2" rx="4.1" ry="3.9"/><ellipse cx="446.7" cy="396.8" rx="4.1" ry="3.9"/><ellipse cx="446.8" cy="387.2" rx="4.1" ry="3.9"/><ellipse cx="446.8" cy="377.4" rx="4.1" ry="3.9"/><ellipse cx="446.8" cy="367.4" rx="4.1" ry="3.9"/><ellipse cx="446.8" cy="357.2" rx="4.1" ry="3.9"/><ellipse cx="446.8" cy="350.8" rx="4.1" ry="3.9"/><ellipse cx="446.8" cy="344.4" rx="4.1" ry="3.9"/><ellipse cx="446.8" cy="338.0" rx="4.1" ry="3.9"/><ellipse cx="446.8" cy="331.6" rx="4.1" ry="3.9"/><ellipse cx="446.8" cy="325.2" rx="4.1" ry="3.9"/><ellipse cx="446.8" cy="318.8" rx="4.1" ry="3.9"/><ellipse cx="446.8" cy="312.4" rx="4.1" ry="3.9"/><ellipse cx="78.0" cy="11.9" rx="4.1" ry="3.9"/><ellipse cx="81.3" cy="12.8" rx="4.1" ry="3.9"/><ellipse cx="84.8" cy="13.8" rx="4.1" ry="3.9"/><ellipse cx="88.4" cy="14.8" rx="4.1" ry="3.9"/><ellipse cx="92.0" cy="15.8" rx="4.1" ry="3.9"/><ellipse cx="95.7" cy="16.9" rx="4.1" ry="3.9"/><ellipse cx="99.6" cy="18.0" rx="4.1" ry="3.9"/><ellipse cx="103.5" cy="19.1" rx="4.1" ry="3.9"/><ellipse cx="107.5" cy="20.3" rx="4.1" ry="3.9"/><ellipse cx="111.6" cy="21.5" rx="4.1" ry="3.9"/><ellipse cx="115.8" cy="22.7" rx="4.1" ry="3.9"/><ellipse cx="120.1" cy="24.0" rx="4.1" ry="3.9"/><ellipse cx="124.4" cy="25.3" rx="4.1" ry="3.9"/><ellipse cx="128.9" cy="26.6" rx="4.1" ry="3.9"/><ellipse cx="133.5" cy="28.0" rx="4.1" ry="3.9"/><ellipse cx="138.2" cy="29.4" rx="4.1" ry="3.9"/><ellipse cx="143.0" cy="30.9" rx="4.1" ry="3.9"/><ellipse cx="147.9" cy="32.4" rx="4.1" ry="3.9"/><ellipse cx="152.9" cy="33.9" rx="4.1" ry="3.9"/><ellipse cx="157.9" cy="35.5" rx="4.1" ry="3.9"/><ellipse cx="163.1" cy="37.2" rx="4.1" ry="3.9"/><ellipse cx="168.4" cy="38.9" rx="4.1" ry="3.9"/><ellipse cx="173.8" cy="40.7" rx="4.1" ry="3.9"/><ellipse cx="179.3" cy="42.5" rx="4.1" ry="3.9"/><ellipse cx="185.1" cy="44.4" rx="4.1" ry="3.9"/><ellipse cx="191.2" cy="46.4" rx="4.1" ry="3.9"/><ellipse cx="197.7" cy="48.6" rx="4.1" ry="3.9"/><ellipse cx="204.5" cy="51.0" rx="4.1" ry="3.9"/><ellipse cx="211.6" cy="53.5" rx="4.1" ry="3.9"/><ellipse cx="219.1" cy="56.1" rx="4.1" ry="3.9"/><ellipse cx="227.0" cy="59.0" rx="4.1" ry="3.9"/><ellipse cx="235.3" cy="62.1" rx="4.1" ry="3.9"/><ellipse cx="243.9" cy="65.3" rx="4.1" ry="3.9"/><ellipse cx="252.9" cy="68.8" rx="4.1" ry="3.9"/><ellipse cx="262.3" cy="72.5" rx="4.1" ry="3.9"/><ellipse cx="272.1" cy="76.5" rx="4.1" ry="3.9"/><ellipse cx="282.2" cy="80.8" rx="4.1" ry="3.9"/><ellipse cx="292.7" cy="85.4" rx="4.1" ry="3.9"/><ellipse cx="303.5" cy="90.2" rx="4.1" ry="3.9"/><ellipse cx="314.5" cy="95.4" rx="4.1" ry="3.9"/><ellipse cx="325.4" cy="100.8" rx="4.1" ry="3.9"/><ellipse cx="336.2" cy="106.3" rx="4.1" ry="3.9"/><ellipse cx="346.9" cy="112.1" rx="4.1" ry="3.9"/><ellipse cx="357.3" cy="118.2" rx="4.1" ry="3.9"/><ellipse cx="367.5" cy="124.4" rx="4.1" ry="3.9"/><ellipse cx="377.5" cy="130.9" rx="4.1" ry="3.9"/><ellipse cx="387.0" cy="137.7" rx="4.1" ry="3.9"/><ellipse cx="396.1" cy="144.7" rx="4.1" ry="3.9"/><ellipse cx="404.7" cy="152.0" rx="4.1" ry="3.9"/><ellipse cx="412.7" cy="159.5" rx="4.1" ry="3.9"/><ellipse cx="420.0" cy="167.2" rx="4.1" ry="3.9"/><ellipse cx="426.5" cy="175.1" rx="4.1" ry="3.9"/><ellipse cx="432.3" cy="183.3" rx="4.1" ry="3.9"/><ellipse cx="437.1" cy="191.8" rx="4.1" ry="3.9"/><ellipse cx="441.0" cy="200.5" rx="4.1" ry="3.9"/><ellipse cx="443.9" cy="209.4" rx="4.1" ry="3.9"/><ellipse cx="445.9" cy="218.6" rx="4.1" ry="3.9"/><ellipse cx="446.7" cy="228.0" rx="4.1" ry="3.9"/><ellipse cx="446.8" cy="237.6" rx="4.1" ry="3.9"/><ellipse cx="446.8" cy="247.4" rx="4.1" ry="3.9"/><ellipse cx="446.8" cy="257.4" rx="4.1" ry="3.9"/><ellipse cx="446.8" cy="267.6" rx="4.1" ry="3.9"/><ellipse cx="446.8" cy="274.0" rx="4.1" ry="3.9"/><ellipse cx="446.8" cy="280.4" rx="4.1" ry="3.9"/><ellipse cx="446.8" cy="286.8" rx="4.1" ry="3.9"/><ellipse cx="446.8" cy="293.2" rx="4.1" ry="3.9"/><ellipse cx="446.8" cy="299.6" rx="4.1" ry="3.9"/><ellipse cx="446.8" cy="306.0" rx="4.1" ry="3.9"/><ellipse cx="446.8" cy="312.4" rx="4.1" ry="3.9"/></g><path d="M73.60 614.10L78.93 612.59L84.22 611.08L89.48 609.57L94.70 608.07L99.88 606.56L105.03 605.05L110.14 603.54L115.22 602.03L120.26 600.52L125.27 599.01L130.24 597.51L135.18 596.00L140.08 594.49L144.94 592.98L149.77 591.47L154.56 589.96L159.31 588.46L164.03 586.95L168.72 585.44L173.36 583.93L177.98 582.42L182.55 580.91L187.09 579.40L191.59 577.90L196.06 576.39L200.49 574.88L204.88 573.37L209.24 571.86L213.56 570.35L217.85 568.85L222.10 567.34L226.31 565.83L230.49 564.32L234.62 562.81L238.73 561.30L242.79 559.79L246.82 558.29L250.81 556.78L254.77 555.27L258.69 553.76L262.57 552.25L266.42 550.74L270.22 549.23L274.00 547.73L277.73 546.22L281.43 544.71L285.09 543.20L288.71 541.69L292.30 540.18L295.85 538.68L299.36 537.17L302.83 535.66L306.27 534.15L309.67 532.64L313.03 531.13L316.35 529.62L319.64 528.12L322.89 526.61L326.10 525.10L329.28 523.59L332.41 522.08L335.51 520.57L338.57 519.06L341.59 517.56L344.58 516.05L347.53 514.54L350.43 513.03L353.30 511.52L356.14 510.01L358.93 508.51L361.69 507.00L364.40 505.49L367.08 503.98L369.72 502.47L372.32 500.96L374.89 499.45L377.41 497.95L379.90 496.44L382.34 494.93L384.75 493.42L387.12 491.91L389.45 490.40L391.74 488.89L393.99 487.39L396.20 485.88L398.38 484.37L400.51 482.86L402.60 481.35L404.66 479.84L406.67 478.34L408.65 476.83L410.58 475.32L412.47 473.81L414.33 472.30L416.14 470.79L417.92 469.28L419.65 467.78L421.34 466.27L422.99 464.76L424.61 463.25L426.18 461.74L427.70 460.23L429.19 458.72L430.64 457.22L432.05 455.71L433.41 454.20L434.73 452.69L436.01 451.18L437.25 449.67L438.44 448.17L439.60 446.66L440.71 445.15L441.78 443.64L442.80 442.13L443.78 440.62L444.72 439.11L445.62 437.61L446.47 436.10L447.28 434.59L448.04 433.08L448.76 431.57L449.43 430.06L450.06 428.55L450.64 427.05L451.17 425.54L451.66 424.03L452.10 422.52L452.49 421.01L452.84 419.50L453.13 418.00L453.38 416.49L453.57 414.98L453.71 413.47L453.79 411.96L453.82 410.45L453.82 408.94L453.82 407.44L453.82 405.93L453.82 404.42L453.82 402.91L453.82 401.40L453.82 399.89L453.82 398.38L453.82 396.88L453.82 395.37L453.82 393.86L453.82 392.35L453.82 390.84L453.82 389.33L453.82 387.83L453.82 386.32L453.82 384.81L453.82 383.30L453.82 381.79L453.82 380.28L453.82 378.77L453.82 377.27L453.82 375.76L453.82 374.25L453.82 372.74L453.82 371.23L453.82 369.72L453.82 368.21L453.82 366.71L453.82 365.20L453.82 363.69L453.82 362.18L453.82 360.67L453.82 359.16L453.82 357.66L453.82 356.15L453.82 354.64L453.82 353.13L453.82 351.62L453.82 350.11L453.82 348.60L453.82 347.10L453.82 345.59L453.82 344.08L453.82 342.57L453.82 341.06L453.82 339.55L453.82 338.04L453.82 336.54L453.82 335.03L453.82 333.52L453.82 332.01L453.82 330.50L453.82 328.99L453.82 327.49L453.82 325.98L453.82 324.47L453.82 322.96L453.82 321.45L453.82 319.94L453.82 318.43L453.82 316.93L453.82 315.42L453.82 313.91L453.82 312.40L453.82 310.89L453.82 309.38L453.82 307.87L453.82 306.37L453.82 304.86L453.82 303.35L453.82 301.84L453.82 300.33L453.82 298.82L453.82 297.31L453.82 295.81L453.82 294.30L453.82 292.79L453.82 291.28L453.82 289.77L453.82 288.26L453.82 286.76L453.82 285.25L453.82 283.74L453.82 282.23L453.82 280.72L453.82 279.21L453.82 277.70L453.82 276.20L453.82 274.69L453.82 273.18L453.82 271.67L453.82 270.16L453.82 268.65L453.82 267.15L453.82 265.64L453.82 264.13L453.82 262.62L453.82 261.11L453.82 259.60L453.82 258.09L453.82 256.59L453.82 255.08L453.82 253.57L453.82 252.06L453.82 250.55L453.82 249.04L453.82 247.53L453.82 246.03L453.82 244.52L453.82 243.01L453.82 241.50L453.82 239.99L453.82 238.48L453.82 236.98L453.82 235.47L453.82 233.96L453.82 232.45L453.82 230.94L453.82 229.43L453.82 227.92L453.82 226.42L453.82 224.91L453.82 223.40L453.82 221.89L453.82 220.38L453.82 218.87L453.82 217.36L453.82 215.86L453.82 214.35L453.79 212.84L453.71 211.33L453.57 209.82L453.38 208.31L453.13 206.81L452.84 205.30L452.49 203.79L452.10 202.28L451.66 200.77L451.17 199.26L450.64 197.75L450.06 196.25L449.43 194.74L448.76 193.23L448.04 191.72L447.28 190.21L446.47 188.70L445.62 187.19L444.72 185.69L443.78 184.18L442.80 182.67L441.78 181.16L440.71 179.65L439.60 178.14L438.44 176.64L437.25 175.13L436.01 173.62L434.73 172.11L433.41 170.60L432.05 169.09L430.64 167.58L429.19 166.08L427.70 164.57L426.18 163.06L424.61 161.55L422.99 160.04L421.34 158.53L419.65 157.02L417.92 155.52L416.14 154.01L414.33 152.50L412.47 150.99L410.58 149.48L408.65 147.97L406.67 146.47L404.66 144.96L402.60 143.45L400.51 141.94L398.38 140.43L396.20 138.92L393.99 137.41L391.74 135.91L389.45 134.40L387.12 132.89L384.75 131.38L382.34 129.87L379.90 128.36L377.41 126.85L374.89 125.35L372.32 123.84L369.72 122.33L367.08 120.82L364.40 119.31L361.69 117.80L358.93 116.30L356.14 114.79L353.30 113.28L350.43 111.77L347.53 110.26L344.58 108.75L341.59 107.24L338.57 105.74L335.51 104.23L332.41 102.72L329.28 101.21L326.10 99.70L322.89 98.19L319.64 96.68L316.35 95.18L313.03 93.67L309.67 92.16L306.27 90.65L302.83 89.14L299.36 87.63L295.85 86.12L292.30 84.62L288.71 83.11L285.09 81.60L281.43 80.09L277.73 78.58L274.00 77.07L270.22 75.57L266.42 74.06L262.57 72.55L258.69 71.04L254.77 69.53L250.81 68.02L246.82 66.51L242.79 65.01L238.73 63.50L234.62 61.99L230.49 60.48L226.31 58.97L222.10 57.46L217.85 55.96L213.56 54.45L209.24 52.94L204.88 51.43L200.49 49.92L196.06 48.41L191.59 46.90L187.09 45.40L182.55 43.89L177.98 42.38L173.36 40.87L168.72 39.36L164.03 37.85L159.31 36.34L154.56 34.84L149.77 33.33L144.94 31.82L140.08 30.31L135.18 28.80L130.24 27.29L125.27 25.79L120.26 24.28L115.22 22.77L110.14 21.26L105.03 19.75L99.88 18.24L94.70 16.73L89.48 15.23L84.22 13.72L78.93 12.21L73.60 10.70" fill="none" stroke="#DC1414" stroke-width="1.9"/><g fill="none" stroke="#40DCDC" stroke-width="1.85" clip-path="url(#lc)"><ellipse cx="79.3" cy="612.9" rx="4.1" ry="3.9"/><ellipse cx="83.8" cy="612.0" rx="4.1" ry="3.9"/><ellipse cx="88.3" cy="611.0" rx="4.1" ry="3.9"/><ellipse cx="93.0" cy="610.0" rx="4.1" ry="3.9"/><ellipse cx="97.8" cy="609.0" rx="4.1" ry="3.9"/><ellipse cx="102.7" cy="607.9" rx="4.1" ry="3.9"/><ellipse cx="107.7" cy="606.8" rx="4.1" ry="3.9"/><ellipse cx="112.8" cy="605.7" rx="4.1" ry="3.9"/><ellipse cx="118.1" cy="604.5" rx="4.1" ry="3.9"/><ellipse cx="123.4" cy="603.3" rx="4.1" ry="3.9"/><ellipse cx="128.9" cy="602.1" rx="4.1" ry="3.9"/><ellipse cx="134.6" cy="600.8" rx="4.1" ry="3.9"/><ellipse cx="140.3" cy="599.5" rx="4.1" ry="3.9"/><ellipse cx="146.2" cy="598.2" rx="4.1" ry="3.9"/><ellipse cx="152.2" cy="596.8" rx="4.1" ry="3.9"/><ellipse cx="158.4" cy="595.4" rx="4.1" ry="3.9"/><ellipse cx="164.7" cy="593.9" rx="4.1" ry="3.9"/><ellipse cx="171.1" cy="592.4" rx="4.1" ry="3.9"/><ellipse cx="177.7" cy="590.9" rx="4.1" ry="3.9"/><ellipse cx="184.4" cy="589.3" rx="4.1" ry="3.9"/><ellipse cx="191.2" cy="587.6" rx="4.1" ry="3.9"/><ellipse cx="198.2" cy="585.9" rx="4.1" ry="3.9"/><ellipse cx="205.3" cy="584.1" rx="4.1" ry="3.9"/><ellipse cx="212.5" cy="582.3" rx="4.1" ry="3.9"/><ellipse cx="220.1" cy="580.4" rx="4.1" ry="3.9"/><ellipse cx="228.2" cy="578.4" rx="4.1" ry="3.9"/><ellipse cx="236.7" cy="576.2" rx="4.1" ry="3.9"/><ellipse cx="245.6" cy="573.8" rx="4.1" ry="3.9"/><ellipse cx="255.0" cy="571.3" rx="4.1" ry="3.9"/><ellipse cx="265.0" cy="568.7" rx="4.1" ry="3.9"/><ellipse cx="275.4" cy="565.8" rx="4.1" ry="3.9"/><ellipse cx="286.3" cy="562.7" rx="4.1" ry="3.9"/><ellipse cx="297.7" cy="559.5" rx="4.1" ry="3.9"/><ellipse cx="309.6" cy="556.0" rx="4.1" ry="3.9"/><ellipse cx="322.1" cy="552.3" rx="4.1" ry="3.9"/><ellipse cx="335.0" cy="548.3" rx="4.1" ry="3.9"/><ellipse cx="348.4" cy="544.0" rx="4.1" ry="3.9"/><ellipse cx="362.3" cy="539.4" rx="4.1" ry="3.9"/><ellipse cx="376.7" cy="534.6" rx="4.1" ry="3.9"/><ellipse cx="391.3" cy="529.4" rx="4.1" ry="3.9"/><ellipse cx="405.9" cy="524.0" rx="4.1" ry="3.9"/><ellipse cx="420.4" cy="518.5" rx="4.1" ry="3.9"/><ellipse cx="434.7" cy="512.7" rx="4.1" ry="3.9"/><ellipse cx="448.7" cy="506.6" rx="4.1" ry="3.9"/><ellipse cx="462.6" cy="500.4" rx="4.1" ry="3.9"/><ellipse cx="476.0" cy="493.9" rx="4.1" ry="3.9"/><ellipse cx="489.0" cy="487.1" rx="4.1" ry="3.9"/><ellipse cx="501.6" cy="480.1" rx="4.1" ry="3.9"/><ellipse cx="513.5" cy="472.8" rx="4.1" ry="3.9"/><ellipse cx="524.7" cy="465.3" rx="4.1" ry="3.9"/><ellipse cx="535.0" cy="457.6" rx="4.1" ry="3.9"/><ellipse cx="544.4" cy="449.7" rx="4.1" ry="3.9"/><ellipse cx="552.8" cy="441.5" rx="4.1" ry="3.9"/><ellipse cx="560.2" cy="433.0" rx="4.1" ry="3.9"/><ellipse cx="566.5" cy="424.3" rx="4.1" ry="3.9"/><ellipse cx="571.5" cy="415.4" rx="4.1" ry="3.9"/><ellipse cx="575.3" cy="406.2" rx="4.1" ry="3.9"/><ellipse cx="577.8" cy="396.8" rx="4.1" ry="3.9"/><ellipse cx="579.1" cy="387.2" rx="4.1" ry="3.9"/><ellipse cx="579.3" cy="377.4" rx="4.1" ry="3.9"/><ellipse cx="579.3" cy="367.4" rx="4.1" ry="3.9"/><ellipse cx="579.3" cy="357.2" rx="4.1" ry="3.9"/><ellipse cx="579.3" cy="350.8" rx="4.1" ry="3.9"/><ellipse cx="579.3" cy="344.4" rx="4.1" ry="3.9"/><ellipse cx="579.3" cy="338.0" rx="4.1" ry="3.9"/><ellipse cx="579.3" cy="331.6" rx="4.1" ry="3.9"/><ellipse cx="579.3" cy="325.2" rx="4.1" ry="3.9"/><ellipse cx="579.3" cy="318.8" rx="4.1" ry="3.9"/><ellipse cx="579.3" cy="312.4" rx="4.1" ry="3.9"/><ellipse cx="79.3" cy="11.9" rx="4.1" ry="3.9"/><ellipse cx="83.8" cy="12.8" rx="4.1" ry="3.9"/><ellipse cx="88.3" cy="13.8" rx="4.1" ry="3.9"/><ellipse cx="93.0" cy="14.8" rx="4.1" ry="3.9"/><ellipse cx="97.8" cy="15.8" rx="4.1" ry="3.9"/><ellipse cx="102.7" cy="16.9" rx="4.1" ry="3.9"/><ellipse cx="107.7" cy="18.0" rx="4.1" ry="3.9"/><ellipse cx="112.8" cy="19.1" rx="4.1" ry="3.9"/><ellipse cx="118.1" cy="20.3" rx="4.1" ry="3.9"/><ellipse cx="123.4" cy="21.5" rx="4.1" ry="3.9"/><ellipse cx="128.9" cy="22.7" rx="4.1" ry="3.9"/><ellipse cx="134.6" cy="24.0" rx="4.1" ry="3.9"/><ellipse cx="140.3" cy="25.3" rx="4.1" ry="3.9"/><ellipse cx="146.2" cy="26.6" rx="4.1" ry="3.9"/><ellipse cx="152.2" cy="28.0" rx="4.1" ry="3.9"/><ellipse cx="158.4" cy="29.4" rx="4.1" ry="3.9"/><ellipse cx="164.7" cy="30.9" rx="4.1" ry="3.9"/><ellipse cx="171.1" cy="32.4" rx="4.1" ry="3.9"/><ellipse cx="177.7" cy="33.9" rx="4.1" ry="3.9"/><ellipse cx="184.4" cy="35.5" rx="4.1" ry="3.9"/><ellipse cx="191.2" cy="37.2" rx="4.1" ry="3.9"/><ellipse cx="198.2" cy="38.9" rx="4.1" ry="3.9"/><ellipse cx="205.3" cy="40.7" rx="4.1" ry="3.9"/><ellipse cx="212.5" cy="42.5" rx="4.1" ry="3.9"/><ellipse cx="220.1" cy="44.4" rx="4.1" ry="3.9"/><ellipse cx="228.2" cy="46.4" rx="4.1" ry="3.9"/><ellipse cx="236.7" cy="48.6" rx="4.1" ry="3.9"/><ellipse cx="245.6" cy="51.0" rx="4.1" ry="3.9"/><ellipse cx="255.0" cy="53.5" rx="4.1" ry="3.9"/><ellipse cx="265.0" cy="56.1" rx="4.1" ry="3.9"/><ellipse cx="275.4" cy="59.0" rx="4.1" ry="3.9"/><ellipse cx="286.3" cy="62.1" rx="4.1" ry="3.9"/><ellipse cx="297.7" cy="65.3" rx="4.1" ry="3.9"/><ellipse cx="309.6" cy="68.8" rx="4.1" ry="3.9"/><ellipse cx="322.1" cy="72.5" rx="4.1" ry="3.9"/><ellipse cx="335.0" cy="76.5" rx="4.1" ry="3.9"/><ellipse cx="348.4" cy="80.8" rx="4.1" ry="3.9"/><ellipse cx="362.3" cy="85.4" rx="4.1" ry="3.9"/><ellipse cx="376.7" cy="90.2" rx="4.1" ry="3.9"/><ellipse cx="391.3" cy="95.4" rx="4.1" ry="3.9"/><ellipse cx="405.9" cy="100.8" rx="4.1" ry="3.9"/><ellipse cx="420.4" cy="106.3" rx="4.1" ry="3.9"/><ellipse cx="434.7" cy="112.1" rx="4.1" ry="3.9"/><ellipse cx="448.7" cy="118.2" rx="4.1" ry="3.9"/><ellipse cx="462.6" cy="124.4" rx="4.1" ry="3.9"/><ellipse cx="476.0" cy="130.9" rx="4.1" ry="3.9"/><ellipse cx="489.0" cy="137.7" rx="4.1" ry="3.9"/><ellipse cx="501.6" cy="144.7" rx="4.1" ry="3.9"/><ellipse cx="513.5" cy="152.0" rx="4.1" ry="3.9"/><ellipse cx="524.7" cy="159.5" rx="4.1" ry="3.9"/><ellipse cx="535.0" cy="167.2" rx="4.1" ry="3.9"/><ellipse cx="544.4" cy="175.1" rx="4.1" ry="3.9"/><ellipse cx="552.8" cy="183.3" rx="4.1" ry="3.9"/><ellipse cx="560.2" cy="191.8" rx="4.1" ry="3.9"/><ellipse cx="566.5" cy="200.5" rx="4.1" ry="3.9"/><ellipse cx="571.5" cy="209.4" rx="4.1" ry="3.9"/><ellipse cx="575.3" cy="218.6" rx="4.1" ry="3.9"/><ellipse cx="577.8" cy="228.0" rx="4.1" ry="3.9"/><ellipse cx="579.1" cy="237.6" rx="4.1" ry="3.9"/><ellipse cx="579.3" cy="247.4" rx="4.1" ry="3.9"/><ellipse cx="579.3" cy="257.4" rx="4.1" ry="3.9"/><ellipse cx="579.3" cy="267.6" rx="4.1" ry="3.9"/><ellipse cx="579.3" cy="274.0" rx="4.1" ry="3.9"/><ellipse cx="579.3" cy="280.4" rx="4.1" ry="3.9"/><ellipse cx="579.3" cy="286.8" rx="4.1" ry="3.9"/><ellipse cx="579.3" cy="293.2" rx="4.1" ry="3.9"/><ellipse cx="579.3" cy="299.6" rx="4.1" ry="3.9"/><ellipse cx="579.3" cy="306.0" rx="4.1" ry="3.9"/><ellipse cx="579.3" cy="312.4" rx="4.1" ry="3.9"/></g><path d="M73.60 614.10L80.61 612.59L87.57 611.08L94.48 609.57L101.35 608.07L108.17 606.56L114.94 605.05L121.66 603.54L128.34 602.03L134.97 600.52L141.55 599.01L148.08 597.51L154.57 596.00L161.01 594.49L167.40 592.98L173.75 591.47L180.04 589.96L186.29 588.46L192.50 586.95L198.65 585.44L204.76 583.93L210.82 582.42L216.83 580.91L222.80 579.40L228.72 577.90L234.59 576.39L240.41 574.88L246.19 573.37L251.92 571.86L257.60 570.35L263.23 568.85L268.82 567.34L274.36 565.83L279.85 564.32L285.29 562.81L290.69 561.30L296.04 559.79L301.34 558.29L306.60 556.78L311.81 555.27L316.97 553.76L322.08 552.25L327.14 550.74L332.16 549.23L337.13 547.73L342.06 546.22L346.93 544.71L351.76 543.20L356.54 541.69L361.27 540.18L365.96 538.68L370.60 537.17L375.19 535.66L379.74 534.15L384.23 532.64L388.68 531.13L393.08 529.62L397.44 528.12L401.75 526.61L406.01 525.10L410.22 523.59L414.38 522.08L418.50 520.57L422.57 519.06L426.59 517.56L430.57 516.05L434.50 514.54L438.38 513.03L442.21 511.52L446.00 510.01L449.74 508.51L453.43 507.00L457.07 505.49L460.67 503.98L464.22 502.47L467.72 500.96L471.17 499.45L474.58 497.95L477.94 496.44L481.25 494.93L484.52 493.42L487.73 491.91L490.90 490.40L494.03 488.89L497.10 487.39L500.13 485.88L503.11 484.37L506.04 482.86L508.93 481.35L511.77 479.84L514.56 478.34L517.30 476.83L520.00 475.32L522.65 473.81L525.25 472.30L527.80 470.79L530.31 469.28L532.77 467.78L535.18 466.27L537.54 464.76L539.86 463.25L542.13 461.74L544.35 460.23L546.53 458.72L548.66 457.22L550.74 455.71L552.77 454.20L554.75 452.69L556.69 451.18L558.58 449.67L560.43 448.17L562.22 446.66L563.97 445.15L565.67 443.64L567.33 442.13L568.93 440.62L570.49 439.11L572.00 437.61L573.47 436.10L574.88 434.59L576.25 433.08L577.57 431.57L578.85 430.06L580.08 428.55L581.26 427.05L582.39 425.54L583.47 424.03L584.51 422.52L585.50 421.01L586.45 419.50L587.34 418.00L588.19 416.49L588.99 414.98L589.74 413.47L590.45 411.96L591.11 410.45L591.72 408.94L592.28 407.44L592.80 405.93L593.27 404.42L593.69 402.91L594.06 401.40L594.39 399.89L594.67 398.38L594.90 396.88L595.09 395.37L595.23 393.86L595.32 392.35L595.36 390.84L595.36 389.33L595.36 387.83L595.36 386.32L595.36 384.81L595.36 383.30L595.36 381.79L595.36 380.28L595.36 378.77L595.36 377.27L595.36 375.76L595.36 374.25L595.36 372.74L595.36 371.23L595.36 369.72L595.36 368.21L595.36 366.71L595.36 365.20L595.36 363.69L595.36 362.18L595.36 360.67L595.36 359.16L595.36 357.66L595.36 356.15L595.36 354.64L595.36 353.13L595.36 351.62L595.36 350.11L595.36 348.60L595.36 347.10L595.36 345.59L595.36 344.08L595.36 342.57L595.36 341.06L595.36 339.55L595.36 338.04L595.36 336.54L595.36 335.03L595.36 333.52L595.36 332.01L595.36 330.50L595.36 328.99L595.36 327.49L595.36 325.98L595.36 324.47L595.36 322.96L595.36 321.45L595.36 319.94L595.36 318.43L595.36 316.93L595.36 315.42L595.36 313.91L595.36 312.40L595.36 310.89L595.36 309.38L595.36 307.87L595.36 306.37L595.36 304.86L595.36 303.35L595.36 301.84L595.36 300.33L595.36 298.82L595.36 297.31L595.36 295.81L595.36 294.30L595.36 292.79L595.36 291.28L595.36 289.77L595.36 288.26L595.36 286.76L595.36 285.25L595.36 283.74L595.36 282.23L595.36 280.72L595.36 279.21L595.36 277.70L595.36 276.20L595.36 274.69L595.36 273.18L595.36 271.67L595.36 270.16L595.36 268.65L595.36 267.15L595.36 265.64L595.36 264.13L595.36 262.62L595.36 261.11L595.36 259.60L595.36 258.09L595.36 256.59L595.36 255.08L595.36 253.57L595.36 252.06L595.36 250.55L595.36 249.04L595.36 247.53L595.36 246.03L595.36 244.52L595.36 243.01L595.36 241.50L595.36 239.99L595.36 238.48L595.36 236.98L595.36 235.47L595.36 233.96L595.32 232.45L595.23 230.94L595.09 229.43L594.90 227.92L594.67 226.42L594.39 224.91L594.06 223.40L593.69 221.89L593.27 220.38L592.80 218.87L592.28 217.36L591.72 215.86L591.11 214.35L590.45 212.84L589.74 211.33L588.99 209.82L588.19 208.31L587.34 206.81L586.45 205.30L585.50 203.79L584.51 202.28L583.47 200.77L582.39 199.26L581.26 197.75L580.08 196.25L578.85 194.74L577.57 193.23L576.25 191.72L574.88 190.21L573.47 188.70L572.00 187.19L570.49 185.69L568.93 184.18L567.33 182.67L565.67 181.16L563.97 179.65L562.22 178.14L560.43 176.64L558.58 175.13L556.69 173.62L554.75 172.11L552.77 170.60L550.74 169.09L548.66 167.58L546.53 166.08L544.35 164.57L542.13 163.06L539.86 161.55L537.54 160.04L535.18 158.53L532.77 157.02L530.31 155.52L527.80 154.01L525.25 152.50L522.65 150.99L520.00 149.48L517.30 147.97L514.56 146.47L511.77 144.96L508.93 143.45L506.04 141.94L503.11 140.43L500.13 138.92L497.10 137.41L494.03 135.91L490.90 134.40L487.73 132.89L484.52 131.38L481.25 129.87L477.94 128.36L474.58 126.85L471.17 125.35L467.72 123.84L464.22 122.33L460.67 120.82L457.07 119.31L453.43 117.80L449.74 116.30L446.00 114.79L442.21 113.28L438.38 111.77L434.50 110.26L430.57 108.75L426.59 107.24L422.57 105.74L418.50 104.23L414.38 102.72L410.22 101.21L406.01 99.70L401.75 98.19L397.44 96.68L393.08 95.18L388.68 93.67L384.23 92.16L379.74 90.65L375.19 89.14L370.60 87.63L365.96 86.12L361.27 84.62L356.54 83.11L351.76 81.60L346.93 80.09L342.06 78.58L337.13 77.07L332.16 75.57L327.14 74.06L322.08 72.55L316.97 71.04L311.81 69.53L306.60 68.02L301.34 66.51L296.04 65.01L290.69 63.50L285.29 61.99L279.85 60.48L274.36 58.97L268.82 57.46L263.23 55.96L257.60 54.45L251.92 52.94L246.19 51.43L240.41 49.92L234.59 48.41L228.72 46.90L222.80 45.40L216.83 43.89L210.82 42.38L204.76 40.87L198.65 39.36L192.50 37.85L186.29 36.34L180.04 34.84L173.75 33.33L167.40 31.82L161.01 30.31L154.57 28.80L148.08 27.29L141.55 25.79L134.97 24.28L128.34 22.77L121.66 21.26L114.94 19.75L108.17 18.24L101.35 16.73L94.48 15.23L87.57 13.72L80.61 12.21L73.60 10.70" fill="none" stroke="#40DCDC" stroke-width="1.9"/><g fill="none" stroke="#C014C8" stroke-width="1.85" clip-path="url(#lc)"><ellipse cx="80.2" cy="612.9" rx="4.1" ry="3.9"/><ellipse cx="85.3" cy="612.0" rx="4.1" ry="3.9"/><ellipse cx="90.5" cy="611.0" rx="4.1" ry="3.9"/><ellipse cx="95.9" cy="610.0" rx="4.1" ry="3.9"/><ellipse cx="101.4" cy="609.0" rx="4.1" ry="3.9"/><ellipse cx="107.1" cy="607.9" rx="4.1" ry="3.9"/><ellipse cx="112.9" cy="606.8" rx="4.1" ry="3.9"/><ellipse cx="118.8" cy="605.7" rx="4.1" ry="3.9"/><ellipse cx="124.9" cy="604.5" rx="4.1" ry="3.9"/><ellipse cx="131.1" cy="603.3" rx="4.1" ry="3.9"/><ellipse cx="137.5" cy="602.1" rx="4.1" ry="3.9"/><ellipse cx="144.1" cy="600.8" rx="4.1" ry="3.9"/><ellipse cx="150.8" cy="599.5" rx="4.1" ry="3.9"/><ellipse cx="157.6" cy="598.2" rx="4.1" ry="3.9"/><ellipse cx="164.7" cy="596.8" rx="4.1" ry="3.9"/><ellipse cx="171.8" cy="595.4" rx="4.1" ry="3.9"/><ellipse cx="179.2" cy="593.9" rx="4.1" ry="3.9"/><ellipse cx="186.7" cy="592.4" rx="4.1" ry="3.9"/><ellipse cx="194.4" cy="590.9" rx="4.1" ry="3.9"/><ellipse cx="202.3" cy="589.3" rx="4.1" ry="3.9"/><ellipse cx="210.3" cy="587.6" rx="4.1" ry="3.9"/><ellipse cx="218.5" cy="585.9" rx="4.1" ry="3.9"/><ellipse cx="226.9" cy="584.1" rx="4.1" ry="3.9"/><ellipse cx="235.5" cy="582.3" rx="4.1" ry="3.9"/><ellipse cx="244.5" cy="580.4" rx="4.1" ry="3.9"/><ellipse cx="254.1" cy="578.4" rx="4.1" ry="3.9"/><ellipse cx="264.2" cy="576.2" rx="4.1" ry="3.9"/><ellipse cx="274.9" cy="573.8" rx="4.1" ry="3.9"/><ellipse cx="286.2" cy="571.3" rx="4.1" ry="3.9"/><ellipse cx="298.1" cy="568.7" rx="4.1" ry="3.9"/><ellipse cx="310.6" cy="565.8" rx="4.1" ry="3.9"/><ellipse cx="323.8" cy="562.7" rx="4.1" ry="3.9"/><ellipse cx="337.7" cy="559.5" rx="4.1" ry="3.9"/><ellipse cx="352.2" cy="556.0" rx="4.1" ry="3.9"/><ellipse cx="367.4" cy="552.3" rx="4.1" ry="3.9"/><ellipse cx="383.3" cy="548.3" rx="4.1" ry="3.9"/><ellipse cx="399.9" cy="544.0" rx="4.1" ry="3.9"/><ellipse cx="417.2" cy="539.4" rx="4.1" ry="3.9"/><ellipse cx="435.1" cy="534.6" rx="4.1" ry="3.9"/><ellipse cx="453.5" cy="529.4" rx="4.1" ry="3.9"/><ellipse cx="472.0" cy="524.0" rx="4.1" ry="3.9"/><ellipse cx="490.5" cy="518.5" rx="4.1" ry="3.9"/><ellipse cx="509.0" cy="512.7" rx="4.1" ry="3.9"/><ellipse cx="527.4" cy="506.6" rx="4.1" ry="3.9"/><ellipse cx="545.6" cy="500.4" rx="4.1" ry="3.9"/><ellipse cx="563.5" cy="493.9" rx="4.1" ry="3.9"/><ellipse cx="581.1" cy="487.1" rx="4.1" ry="3.9"/><ellipse cx="598.3" cy="480.1" rx="4.1" ry="3.9"/><ellipse cx="614.9" cy="472.8" rx="4.1" ry="3.9"/><ellipse cx="630.7" cy="465.3" rx="4.1" ry="3.9"/><ellipse cx="645.6" cy="457.6" rx="4.1" ry="3.9"/><ellipse cx="659.5" cy="449.7" rx="4.1" ry="3.9"/><ellipse cx="672.4" cy="441.5" rx="4.1" ry="3.9"/><ellipse cx="683.9" cy="433.0" rx="4.1" ry="3.9"/><ellipse cx="694.2" cy="424.3" rx="4.1" ry="3.9"/><ellipse cx="702.8" cy="415.4" rx="4.1" ry="3.9"/><ellipse cx="709.8" cy="406.2" rx="4.1" ry="3.9"/><ellipse cx="714.9" cy="396.8" rx="4.1" ry="3.9"/><ellipse cx="718.1" cy="387.2" rx="4.1" ry="3.9"/><ellipse cx="719.1" cy="377.4" rx="4.1" ry="3.9"/><ellipse cx="719.1" cy="367.4" rx="4.1" ry="3.9"/><ellipse cx="719.1" cy="357.2" rx="4.1" ry="3.9"/><ellipse cx="719.1" cy="350.8" rx="4.1" ry="3.9"/><ellipse cx="719.1" cy="344.4" rx="4.1" ry="3.9"/><ellipse cx="719.1" cy="338.0" rx="4.1" ry="3.9"/><ellipse cx="719.1" cy="331.6" rx="4.1" ry="3.9"/><ellipse cx="719.1" cy="325.2" rx="4.1" ry="3.9"/><ellipse cx="719.1" cy="318.8" rx="4.1" ry="3.9"/><ellipse cx="719.1" cy="312.4" rx="4.1" ry="3.9"/><ellipse cx="80.2" cy="11.9" rx="4.1" ry="3.9"/><ellipse cx="85.3" cy="12.8" rx="4.1" ry="3.9"/><ellipse cx="90.5" cy="13.8" rx="4.1" ry="3.9"/><ellipse cx="95.9" cy="14.8" rx="4.1" ry="3.9"/><ellipse cx="101.4" cy="15.8" rx="4.1" ry="3.9"/><ellipse cx="107.1" cy="16.9" rx="4.1" ry="3.9"/><ellipse cx="112.9" cy="18.0" rx="4.1" ry="3.9"/><ellipse cx="118.8" cy="19.1" rx="4.1" ry="3.9"/><ellipse cx="124.9" cy="20.3" rx="4.1" ry="3.9"/><ellipse cx="131.1" cy="21.5" rx="4.1" ry="3.9"/><ellipse cx="137.5" cy="22.7" rx="4.1" ry="3.9"/><ellipse cx="144.1" cy="24.0" rx="4.1" ry="3.9"/><ellipse cx="150.8" cy="25.3" rx="4.1" ry="3.9"/><ellipse cx="157.6" cy="26.6" rx="4.1" ry="3.9"/><ellipse cx="164.7" cy="28.0" rx="4.1" ry="3.9"/><ellipse cx="171.8" cy="29.4" rx="4.1" ry="3.9"/><ellipse cx="179.2" cy="30.9" rx="4.1" ry="3.9"/><ellipse cx="186.7" cy="32.4" rx="4.1" ry="3.9"/><ellipse cx="194.4" cy="33.9" rx="4.1" ry="3.9"/><ellipse cx="202.3" cy="35.5" rx="4.1" ry="3.9"/><ellipse cx="210.3" cy="37.2" rx="4.1" ry="3.9"/><ellipse cx="218.5" cy="38.9" rx="4.1" ry="3.9"/><ellipse cx="226.9" cy="40.7" rx="4.1" ry="3.9"/><ellipse cx="235.5" cy="42.5" rx="4.1" ry="3.9"/><ellipse cx="244.5" cy="44.4" rx="4.1" ry="3.9"/><ellipse cx="254.1" cy="46.4" rx="4.1" ry="3.9"/><ellipse cx="264.2" cy="48.6" rx="4.1" ry="3.9"/><ellipse cx="274.9" cy="51.0" rx="4.1" ry="3.9"/><ellipse cx="286.2" cy="53.5" rx="4.1" ry="3.9"/><ellipse cx="298.1" cy="56.1" rx="4.1" ry="3.9"/><ellipse cx="310.6" cy="59.0" rx="4.1" ry="3.9"/><ellipse cx="323.8" cy="62.1" rx="4.1" ry="3.9"/><ellipse cx="337.7" cy="65.3" rx="4.1" ry="3.9"/><ellipse cx="352.2" cy="68.8" rx="4.1" ry="3.9"/><ellipse cx="367.4" cy="72.5" rx="4.1" ry="3.9"/><ellipse cx="383.3" cy="76.5" rx="4.1" ry="3.9"/><ellipse cx="399.9" cy="80.8" rx="4.1" ry="3.9"/><ellipse cx="417.2" cy="85.4" rx="4.1" ry="3.9"/><ellipse cx="435.1" cy="90.2" rx="4.1" ry="3.9"/><ellipse cx="453.5" cy="95.4" rx="4.1" ry="3.9"/><ellipse cx="472.0" cy="100.8" rx="4.1" ry="3.9"/><ellipse cx="490.5" cy="106.3" rx="4.1" ry="3.9"/><ellipse cx="509.0" cy="112.1" rx="4.1" ry="3.9"/><ellipse cx="527.4" cy="118.2" rx="4.1" ry="3.9"/><ellipse cx="545.6" cy="124.4" rx="4.1" ry="3.9"/><ellipse cx="563.5" cy="130.9" rx="4.1" ry="3.9"/><ellipse cx="581.1" cy="137.7" rx="4.1" ry="3.9"/><ellipse cx="598.3" cy="144.7" rx="4.1" ry="3.9"/><ellipse cx="614.9" cy="152.0" rx="4.1" ry="3.9"/><ellipse cx="630.7" cy="159.5" rx="4.1" ry="3.9"/><ellipse cx="645.6" cy="167.2" rx="4.1" ry="3.9"/><ellipse cx="659.5" cy="175.1" rx="4.1" ry="3.9"/><ellipse cx="672.4" cy="183.3" rx="4.1" ry="3.9"/><ellipse cx="683.9" cy="191.8" rx="4.1" ry="3.9"/><ellipse cx="694.2" cy="200.5" rx="4.1" ry="3.9"/><ellipse cx="702.8" cy="209.4" rx="4.1" ry="3.9"/><ellipse cx="709.8" cy="218.6" rx="4.1" ry="3.9"/><ellipse cx="714.9" cy="228.0" rx="4.1" ry="3.9"/><ellipse cx="718.1" cy="237.6" rx="4.1" ry="3.9"/><ellipse cx="719.1" cy="247.4" rx="4.1" ry="3.9"/><ellipse cx="719.1" cy="257.4" rx="4.1" ry="3.9"/><ellipse cx="719.1" cy="267.6" rx="4.1" ry="3.9"/><ellipse cx="719.1" cy="274.0" rx="4.1" ry="3.9"/><ellipse cx="719.1" cy="280.4" rx="4.1" ry="3.9"/><ellipse cx="719.1" cy="286.8" rx="4.1" ry="3.9"/><ellipse cx="719.1" cy="293.2" rx="4.1" ry="3.9"/><ellipse cx="719.1" cy="299.6" rx="4.1" ry="3.9"/><ellipse cx="719.1" cy="306.0" rx="4.1" ry="3.9"/><ellipse cx="719.1" cy="312.4" rx="4.1" ry="3.9"/></g><path d="M73.60 614.10L82.03 612.59L90.41 611.08L98.74 609.57L107.01 608.07L115.23 606.56L123.39 605.05L131.50 603.54L139.56 602.03L147.56 600.52L155.51 599.01L163.41 597.51L171.25 596.00L179.03 594.49L186.77 592.98L194.45 591.47L202.07 589.96L209.64 588.46L217.16 586.95L224.62 585.44L232.03 583.93L239.39 582.42L246.69 580.91L253.94 579.40L261.13 577.90L268.27 576.39L275.36 574.88L282.39 573.37L289.37 571.86L296.30 570.35L303.17 568.85L309.98 567.34L316.75 565.83L323.46 564.32L330.11 562.81L336.71 561.30L343.26 559.79L349.75 558.29L356.19 556.78L362.58 555.27L368.91 553.76L375.19 552.25L381.41 550.74L387.58 549.23L393.70 547.73L399.76 546.22L405.77 544.71L411.73 543.20L417.63 541.69L423.47 540.18L429.27 538.68L435.01 537.17L440.69 535.66L446.32 534.15L451.90 532.64L457.42 531.13L462.89 529.62L468.31 528.12L473.67 526.61L478.98 525.10L484.23 523.59L489.43 522.08L494.58 520.57L499.67 519.06L504.71 517.56L509.70 516.05L514.63 514.54L519.50 513.03L524.33 511.52L529.10 510.01L533.81 508.51L538.47 507.00L543.08 505.49L547.63 503.98L552.13 502.47L556.58 500.96L560.97 499.45L565.31 497.95L569.59 496.44L573.82 494.93L578.00 493.42L582.12 491.91L586.19 490.40L590.21 488.89L594.17 487.39L598.07 485.88L601.93 484.37L605.73 482.86L609.47 481.35L613.16 479.84L616.80 478.34L620.38 476.83L623.91 475.32L627.39 473.81L630.81 472.30L634.18 470.79L637.49 469.28L640.75 467.78L643.96 466.27L647.11 464.76L650.21 463.25L653.26 461.74L656.25 460.23L659.18 458.72L662.07 457.22L664.90 455.71L667.67 454.20L670.39 452.69L673.06 451.18L675.67 449.67L678.23 448.17L680.74 446.66L683.19 445.15L685.59 443.64L687.93 442.13L690.22 440.62L692.46 439.11L694.64 437.61L696.77 436.10L698.85 434.59L700.87 433.08L702.83 431.57L704.75 430.06L706.61 428.55L708.41 427.05L710.16 425.54L711.86 424.03L713.50 422.52L715.09 421.01L716.63 419.50L718.11 418.00L719.54 416.49L720.91 414.98L722.23 413.47L723.50 411.96L724.71 410.45L725.87 408.94L726.98 407.44L728.03 405.93L729.02 404.42L729.97 402.91L730.86 401.40L731.69 399.89L732.47 398.38L733.20 396.88L733.87 395.37L734.49 393.86L735.06 392.35L735.57 390.84L736.03 389.33L736.43 387.83L736.78 386.32L737.08 384.81L737.32 383.30L737.51 381.79L737.65 380.28L737.73 378.77L737.75 377.27L737.75 375.76L737.75 374.25L737.75 372.74L737.75 371.23L737.75 369.72L737.75 368.21L737.75 366.71L737.75 365.20L737.75 363.69L737.75 362.18L737.75 360.67L737.75 359.16L737.75 357.66L737.75 356.15L737.75 354.64L737.75 353.13L737.75 351.62L737.75 350.11L737.75 348.60L737.75 347.10L737.75 345.59L737.75 344.08L737.75 342.57L737.75 341.06L737.75 339.55L737.75 338.04L737.75 336.54L737.75 335.03L737.75 333.52L737.75 332.01L737.75 330.50L737.75 328.99L737.75 327.49L737.75 325.98L737.75 324.47L737.75 322.96L737.75 321.45L737.75 319.94L737.75 318.43L737.75 316.93L737.75 315.42L737.75 313.91L737.75 312.40L737.75 310.89L737.75 309.38L737.75 307.87L737.75 306.37L737.75 304.86L737.75 303.35L737.75 301.84L737.75 300.33L737.75 298.82L737.75 297.31L737.75 295.81L737.75 294.30L737.75 292.79L737.75 291.28L737.75 289.77L737.75 288.26L737.75 286.76L737.75 285.25L737.75 283.74L737.75 282.23L737.75 280.72L737.75 279.21L737.75 277.70L737.75 276.20L737.75 274.69L737.75 273.18L737.75 271.67L737.75 270.16L737.75 268.65L737.75 267.15L737.75 265.64L737.75 264.13L737.75 262.62L737.75 261.11L737.75 259.60L737.75 258.09L737.75 256.59L737.75 255.08L737.75 253.57L737.75 252.06L737.75 250.55L737.75 249.04L737.75 247.53L737.73 246.03L737.65 244.52L737.51 243.01L737.32 241.50L737.08 239.99L736.78 238.48L736.43 236.98L736.03 235.47L735.57 233.96L735.06 232.45L734.49 230.94L733.87 229.43L733.20 227.92L732.47 226.42L731.69 224.91L730.86 223.40L729.97 221.89L729.02 220.38L728.03 218.87L726.98 217.36L725.87 215.86L724.71 214.35L723.50 212.84L722.23 211.33L720.91 209.82L719.54 208.31L718.11 206.81L716.63 205.30L715.09 203.79L713.50 202.28L711.86 200.77L710.16 199.26L708.41 197.75L706.61 196.25L704.75 194.74L702.83 193.23L700.87 191.72L698.85 190.21L696.77 188.70L694.64 187.19L692.46 185.69L690.22 184.18L687.93 182.67L685.59 181.16L683.19 179.65L680.74 178.14L678.23 176.64L675.67 175.13L673.06 173.62L670.39 172.11L667.67 170.60L664.90 169.09L662.07 167.58L659.18 166.08L656.25 164.57L653.26 163.06L650.21 161.55L647.11 160.04L643.96 158.53L640.75 157.02L637.49 155.52L634.18 154.01L630.81 152.50L627.39 150.99L623.91 149.48L620.38 147.97L616.80 146.47L613.16 144.96L609.47 143.45L605.73 141.94L601.93 140.43L598.07 138.92L594.17 137.41L590.21 135.91L586.19 134.40L582.12 132.89L578.00 131.38L573.82 129.87L569.59 128.36L565.31 126.85L560.97 125.35L556.58 123.84L552.13 122.33L547.63 120.82L543.08 119.31L538.47 117.80L533.81 116.30L529.10 114.79L524.33 113.28L519.50 111.77L514.63 110.26L509.70 108.75L504.71 107.24L499.67 105.74L494.58 104.23L489.43 102.72L484.23 101.21L478.98 99.70L473.67 98.19L468.31 96.68L462.89 95.18L457.42 93.67L451.90 92.16L446.32 90.65L440.69 89.14L435.01 87.63L429.27 86.12L423.47 84.62L417.63 83.11L411.73 81.60L405.77 80.09L399.76 78.58L393.70 77.07L387.58 75.57L381.41 74.06L375.19 72.55L368.91 71.04L362.58 69.53L356.19 68.02L349.75 66.51L343.26 65.01L336.71 63.50L330.11 61.99L323.46 60.48L316.75 58.97L309.98 57.46L303.17 55.96L296.30 54.45L289.37 52.94L282.39 51.43L275.36 49.92L268.27 48.41L261.13 46.90L253.94 45.40L246.69 43.89L239.39 42.38L232.03 40.87L224.62 39.36L217.16 37.85L209.64 36.34L202.07 34.84L194.45 33.33L186.77 31.82L179.03 30.31L171.25 28.80L163.41 27.29L155.51 25.79L147.56 24.28L139.56 22.77L131.50 21.26L123.39 19.75L115.23 18.24L107.01 16.73L98.74 15.23L90.41 13.72L82.03 12.21L73.60 10.70" fill="none" stroke="#C014C8" stroke-width="1.9"/><g fill="none" stroke="#FFCD46" stroke-width="1.85" clip-path="url(#lc)"><ellipse cx="81.5" cy="612.9" rx="4.1" ry="3.9"/><ellipse cx="87.6" cy="612.0" rx="4.1" ry="3.9"/><ellipse cx="93.9" cy="611.0" rx="4.1" ry="3.9"/><ellipse cx="100.4" cy="610.0" rx="4.1" ry="3.9"/><ellipse cx="107.0" cy="609.0" rx="4.1" ry="3.9"/><ellipse cx="113.8" cy="607.9" rx="4.1" ry="3.9"/><ellipse cx="120.8" cy="606.8" rx="4.1" ry="3.9"/><ellipse cx="127.9" cy="605.7" rx="4.1" ry="3.9"/><ellipse cx="135.2" cy="604.5" rx="4.1" ry="3.9"/><ellipse cx="142.7" cy="603.3" rx="4.1" ry="3.9"/><ellipse cx="150.4" cy="602.1" rx="4.1" ry="3.9"/><ellipse cx="158.2" cy="600.8" rx="4.1" ry="3.9"/><ellipse cx="166.3" cy="599.5" rx="4.1" ry="3.9"/><ellipse cx="174.5" cy="598.2" rx="4.1" ry="3.9"/><ellipse cx="183.0" cy="596.8" rx="4.1" ry="3.9"/><ellipse cx="191.6" cy="595.4" rx="4.1" ry="3.9"/><ellipse cx="200.5" cy="593.9" rx="4.1" ry="3.9"/><ellipse cx="209.5" cy="592.4" rx="4.1" ry="3.9"/><ellipse cx="218.8" cy="590.9" rx="4.1" ry="3.9"/><ellipse cx="228.2" cy="589.3" rx="4.1" ry="3.9"/><ellipse cx="237.9" cy="587.6" rx="4.1" ry="3.9"/><ellipse cx="247.8" cy="585.9" rx="4.1" ry="3.9"/><ellipse cx="257.9" cy="584.1" rx="4.1" ry="3.9"/><ellipse cx="268.2" cy="582.3" rx="4.1" ry="3.9"/><ellipse cx="279.0" cy="580.4" rx="4.1" ry="3.9"/><ellipse cx="290.5" cy="578.4" rx="4.1" ry="3.9"/><ellipse cx="302.7" cy="576.2" rx="4.1" ry="3.9"/><ellipse cx="315.6" cy="573.8" rx="4.1" ry="3.9"/><ellipse cx="329.1" cy="571.3" rx="4.1" ry="3.9"/><ellipse cx="343.4" cy="568.7" rx="4.1" ry="3.9"/><ellipse cx="358.5" cy="565.8" rx="4.1" ry="3.9"/><ellipse cx="374.4" cy="562.7" rx="4.1" ry="3.9"/><ellipse cx="391.1" cy="559.5" rx="4.1" ry="3.9"/><ellipse cx="408.5" cy="556.0" rx="4.1" ry="3.9"/><ellipse cx="426.9" cy="552.3" rx="4.1" ry="3.9"/><ellipse cx="446.0" cy="548.3" rx="4.1" ry="3.9"/><ellipse cx="466.0" cy="544.0" rx="4.1" ry="3.9"/><ellipse cx="486.8" cy="539.4" rx="4.1" ry="3.9"/><ellipse cx="508.4" cy="534.6" rx="4.1" ry="3.9"/><ellipse cx="530.7" cy="529.4" rx="4.1" ry="3.9"/><ellipse cx="553.0" cy="524.0" rx="4.1" ry="3.9"/><ellipse cx="575.3" cy="518.5" rx="4.1" ry="3.9"/><ellipse cx="597.6" cy="512.7" rx="4.1" ry="3.9"/><ellipse cx="619.8" cy="506.6" rx="4.1" ry="3.9"/><ellipse cx="641.8" cy="500.4" rx="4.1" ry="3.9"/><ellipse cx="663.5" cy="493.9" rx="4.1" ry="3.9"/><ellipse cx="684.8" cy="487.1" rx="4.1" ry="3.9"/><ellipse cx="705.6" cy="480.1" rx="4.1" ry="3.9"/><ellipse cx="725.8" cy="472.8" rx="4.1" ry="3.9"/><ellipse cx="745.0" cy="465.3" rx="4.1" ry="3.9"/><ellipse cx="763.2" cy="457.6" rx="4.1" ry="3.9"/><ellipse cx="780.2" cy="449.7" rx="4.1" ry="3.9"/><ellipse cx="795.9" cy="441.5" rx="4.1" ry="3.9"/><ellipse cx="810.1" cy="433.0" rx="4.1" ry="3.9"/><ellipse cx="822.7" cy="424.3" rx="4.1" ry="3.9"/><ellipse cx="833.5" cy="415.4" rx="4.1" ry="3.9"/><ellipse cx="842.3" cy="406.2" rx="4.1" ry="3.9"/><ellipse cx="848.9" cy="396.8" rx="4.1" ry="3.9"/><ellipse cx="853.1" cy="387.2" rx="4.1" ry="3.9"/><ellipse cx="854.8" cy="377.4" rx="4.1" ry="3.9"/><ellipse cx="854.8" cy="367.4" rx="4.1" ry="3.9"/><ellipse cx="854.8" cy="357.2" rx="4.1" ry="3.9"/><ellipse cx="854.8" cy="350.8" rx="4.1" ry="3.9"/><ellipse cx="854.8" cy="344.4" rx="4.1" ry="3.9"/><ellipse cx="854.8" cy="338.0" rx="4.1" ry="3.9"/><ellipse cx="854.8" cy="331.6" rx="4.1" ry="3.9"/><ellipse cx="854.8" cy="325.2" rx="4.1" ry="3.9"/><ellipse cx="854.8" cy="318.8" rx="4.1" ry="3.9"/><ellipse cx="854.8" cy="312.4" rx="4.1" ry="3.9"/><ellipse cx="81.5" cy="11.9" rx="4.1" ry="3.9"/><ellipse cx="87.6" cy="12.8" rx="4.1" ry="3.9"/><ellipse cx="93.9" cy="13.8" rx="4.1" ry="3.9"/><ellipse cx="100.4" cy="14.8" rx="4.1" ry="3.9"/><ellipse cx="107.0" cy="15.8" rx="4.1" ry="3.9"/><ellipse cx="113.8" cy="16.9" rx="4.1" ry="3.9"/><ellipse cx="120.8" cy="18.0" rx="4.1" ry="3.9"/><ellipse cx="127.9" cy="19.1" rx="4.1" ry="3.9"/><ellipse cx="135.2" cy="20.3" rx="4.1" ry="3.9"/><ellipse cx="142.7" cy="21.5" rx="4.1" ry="3.9"/><ellipse cx="150.4" cy="22.7" rx="4.1" ry="3.9"/><ellipse cx="158.2" cy="24.0" rx="4.1" ry="3.9"/><ellipse cx="166.3" cy="25.3" rx="4.1" ry="3.9"/><ellipse cx="174.5" cy="26.6" rx="4.1" ry="3.9"/><ellipse cx="183.0" cy="28.0" rx="4.1" ry="3.9"/><ellipse cx="191.6" cy="29.4" rx="4.1" ry="3.9"/><ellipse cx="200.5" cy="30.9" rx="4.1" ry="3.9"/><ellipse cx="209.5" cy="32.4" rx="4.1" ry="3.9"/><ellipse cx="218.8" cy="33.9" rx="4.1" ry="3.9"/><ellipse cx="228.2" cy="35.5" rx="4.1" ry="3.9"/><ellipse cx="237.9" cy="37.2" rx="4.1" ry="3.9"/><ellipse cx="247.8" cy="38.9" rx="4.1" ry="3.9"/><ellipse cx="257.9" cy="40.7" rx="4.1" ry="3.9"/><ellipse cx="268.2" cy="42.5" rx="4.1" ry="3.9"/><ellipse cx="279.0" cy="44.4" rx="4.1" ry="3.9"/><ellipse cx="290.5" cy="46.4" rx="4.1" ry="3.9"/><ellipse cx="302.7" cy="48.6" rx="4.1" ry="3.9"/><ellipse cx="315.6" cy="51.0" rx="4.1" ry="3.9"/><ellipse cx="329.1" cy="53.5" rx="4.1" ry="3.9"/><ellipse cx="343.4" cy="56.1" rx="4.1" ry="3.9"/><ellipse cx="358.5" cy="59.0" rx="4.1" ry="3.9"/><ellipse cx="374.4" cy="62.1" rx="4.1" ry="3.9"/><ellipse cx="391.1" cy="65.3" rx="4.1" ry="3.9"/><ellipse cx="408.5" cy="68.8" rx="4.1" ry="3.9"/><ellipse cx="426.9" cy="72.5" rx="4.1" ry="3.9"/><ellipse cx="446.0" cy="76.5" rx="4.1" ry="3.9"/><ellipse cx="466.0" cy="80.8" rx="4.1" ry="3.9"/><ellipse cx="486.8" cy="85.4" rx="4.1" ry="3.9"/><ellipse cx="508.4" cy="90.2" rx="4.1" ry="3.9"/><ellipse cx="530.7" cy="95.4" rx="4.1" ry="3.9"/><ellipse cx="553.0" cy="100.8" rx="4.1" ry="3.9"/><ellipse cx="575.3" cy="106.3" rx="4.1" ry="3.9"/><ellipse cx="597.6" cy="112.1" rx="4.1" ry="3.9"/><ellipse cx="619.8" cy="118.2" rx="4.1" ry="3.9"/><ellipse cx="641.8" cy="124.4" rx="4.1" ry="3.9"/><ellipse cx="663.5" cy="130.9" rx="4.1" ry="3.9"/><ellipse cx="684.8" cy="137.7" rx="4.1" ry="3.9"/><ellipse cx="705.6" cy="144.7" rx="4.1" ry="3.9"/><ellipse cx="725.8" cy="152.0" rx="4.1" ry="3.9"/><ellipse cx="745.0" cy="159.5" rx="4.1" ry="3.9"/><ellipse cx="763.2" cy="167.2" rx="4.1" ry="3.9"/><ellipse cx="780.2" cy="175.1" rx="4.1" ry="3.9"/><ellipse cx="795.9" cy="183.3" rx="4.1" ry="3.9"/><ellipse cx="810.1" cy="191.8" rx="4.1" ry="3.9"/><ellipse cx="822.7" cy="200.5" rx="4.1" ry="3.9"/><ellipse cx="833.5" cy="209.4" rx="4.1" ry="3.9"/><ellipse cx="842.3" cy="218.6" rx="4.1" ry="3.9"/><ellipse cx="848.9" cy="228.0" rx="4.1" ry="3.9"/><ellipse cx="853.1" cy="237.6" rx="4.1" ry="3.9"/><ellipse cx="854.8" cy="247.4" rx="4.1" ry="3.9"/><ellipse cx="854.8" cy="257.4" rx="4.1" ry="3.9"/><ellipse cx="854.8" cy="267.6" rx="4.1" ry="3.9"/><ellipse cx="854.8" cy="274.0" rx="4.1" ry="3.9"/><ellipse cx="854.8" cy="280.4" rx="4.1" ry="3.9"/><ellipse cx="854.8" cy="286.8" rx="4.1" ry="3.9"/><ellipse cx="854.8" cy="293.2" rx="4.1" ry="3.9"/><ellipse cx="854.8" cy="299.6" rx="4.1" ry="3.9"/><ellipse cx="854.8" cy="306.0" rx="4.1" ry="3.9"/><ellipse cx="854.8" cy="312.4" rx="4.1" ry="3.9"/></g><path d="M73.60 614.10L83.52 612.59L93.38 611.08L103.17 609.57L112.90 608.07L122.58 606.56L132.19 605.05L141.73 603.54L151.22 602.03L160.65 600.52L170.01 599.01L179.31 597.51L188.55 596.00L197.73 594.49L206.84 592.98L215.90 591.47L224.89 589.96L233.82 588.46L242.69 586.95L251.50 585.44L260.25 583.93L268.93 582.42L277.55 580.91L286.11 579.40L294.61 577.90L303.05 576.39L311.42 574.88L319.74 573.37L327.99 571.86L336.18 570.35L344.31 568.85L352.38 567.34L360.38 565.83L368.33 564.32L376.21 562.81L384.03 561.30L391.79 559.79L399.48 558.29L407.12 556.78L414.69 555.27L422.20 553.76L429.65 552.25L437.04 550.74L444.37 549.23L451.63 547.73L458.83 546.22L465.97 544.71L473.05 543.20L480.07 541.69L487.03 540.18L493.92 538.68L500.75 537.17L507.53 535.66L514.23 534.15L520.88 532.64L527.47 531.13L533.99 529.62L540.45 528.12L546.85 526.61L553.19 525.10L559.47 523.59L565.69 522.08L571.84 520.57L577.93 519.06L583.96 517.56L589.93 516.05L595.84 514.54L601.68 513.03L607.46 511.52L613.19 510.01L618.85 508.51L624.44 507.00L629.98 505.49L635.45 503.98L640.87 502.47L646.22 500.96L651.51 499.45L656.74 497.95L661.90 496.44L667.01 494.93L672.05 493.42L677.03 491.91L681.95 490.40L686.81 488.89L691.60 487.39L696.34 485.88L701.01 484.37L705.62 482.86L710.17 481.35L714.66 479.84L719.08 478.34L723.44 476.83L727.75 475.32L731.99 473.81L736.17 472.30L740.28 470.79L744.34 469.28L748.33 467.78L752.26 466.27L756.13 464.76L759.94 463.25L763.69 461.74L767.37 460.23L770.99 458.72L774.56 457.22L778.06 455.71L781.49 454.20L784.87 452.69L788.18 451.18L791.44 449.67L794.63 448.17L797.76 446.66L800.82 445.15L803.83 443.64L806.77 442.13L809.66 440.62L812.48 439.11L815.24 437.61L817.93 436.10L820.57 434.59L823.14 433.08L825.66 431.57L828.11 430.06L830.49 428.55L832.82 427.05L835.09 425.54L837.29 424.03L839.43 422.52L841.51 421.01L843.53 419.50L845.49 418.00L847.38 416.49L849.21 414.98L850.99 413.47L852.70 411.96L854.34 410.45L855.93 408.94L857.45 407.44L858.92 405.93L860.32 404.42L861.66 402.91L862.93 401.40L864.15 399.89L865.30 398.38L866.40 396.88L867.43 395.37L868.40 393.86L869.30 392.35L870.15 390.84L870.93 389.33L871.66 387.83L872.32 386.32L872.92 384.81L873.45 383.30L873.93 381.79L874.34 380.28L874.69 378.77L874.98 377.27L875.21 375.76L875.38 374.25L875.48 372.74L875.53 371.23L875.53 369.72L875.53 368.21L875.53 366.71L875.53 365.20L875.53 363.69L875.53 362.18L875.53 360.67L875.53 359.16L875.53 357.66L875.53 356.15L875.53 354.64L875.53 353.13L875.53 351.62L875.53 350.11L875.53 348.60L875.53 347.10L875.53 345.59L875.53 344.08L875.53 342.57L875.53 341.06L875.53 339.55L875.53 338.04L875.53 336.54L875.53 335.03L875.53 333.52L875.53 332.01L875.53 330.50L875.53 328.99L875.53 327.49L875.53 325.98L875.53 324.47L875.53 322.96L875.53 321.45L875.53 319.94L875.53 318.43L875.53 316.93L875.53 315.42L875.53 313.91L875.53 312.40L875.53 310.89L875.53 309.38L875.53 307.87L875.53 306.37L875.53 304.86L875.53 303.35L875.53 301.84L875.53 300.33L875.53 298.82L875.53 297.31L875.53 295.81L875.53 294.30L875.53 292.79L875.53 291.28L875.53 289.77L875.53 288.26L875.53 286.76L875.53 285.25L875.53 283.74L875.53 282.23L875.53 280.72L875.53 279.21L875.53 277.70L875.53 276.20L875.53 274.69L875.53 273.18L875.53 271.67L875.53 270.16L875.53 268.65L875.53 267.15L875.53 265.64L875.53 264.13L875.53 262.62L875.53 261.11L875.53 259.60L875.53 258.09L875.53 256.59L875.53 255.08L875.53 253.57L875.48 252.06L875.38 250.55L875.21 249.04L874.98 247.53L874.69 246.03L874.34 244.52L873.93 243.01L873.45 241.50L872.92 239.99L872.32 238.48L871.66 236.98L870.93 235.47L870.15 233.96L869.30 232.45L868.40 230.94L867.43 229.43L866.40 227.92L865.30 226.42L864.15 224.91L862.93 223.40L861.66 221.89L860.32 220.38L858.92 218.87L857.45 217.36L855.93 215.86L854.34 214.35L852.70 212.84L850.99 211.33L849.21 209.82L847.38 208.31L845.49 206.81L843.53 205.30L841.51 203.79L839.43 202.28L837.29 200.77L835.09 199.26L832.82 197.75L830.49 196.25L828.11 194.74L825.66 193.23L823.14 191.72L820.57 190.21L817.93 188.70L815.24 187.19L812.48 185.69L809.66 184.18L806.77 182.67L803.83 181.16L800.82 179.65L797.76 178.14L794.63 176.64L791.44 175.13L788.18 173.62L784.87 172.11L781.49 170.60L778.06 169.09L774.56 167.58L770.99 166.08L767.37 164.57L763.69 163.06L759.94 161.55L756.13 160.04L752.26 158.53L748.33 157.02L744.34 155.52L740.28 154.01L736.17 152.50L731.99 150.99L727.75 149.48L723.44 147.97L719.08 146.47L714.66 144.96L710.17 143.45L705.62 141.94L701.01 140.43L696.34 138.92L691.60 137.41L686.81 135.91L681.95 134.40L677.03 132.89L672.05 131.38L667.01 129.87L661.90 128.36L656.74 126.85L651.51 125.35L646.22 123.84L640.87 122.33L635.45 120.82L629.98 119.31L624.44 117.80L618.85 116.30L613.19 114.79L607.46 113.28L601.68 111.77L595.84 110.26L589.93 108.75L583.96 107.24L577.93 105.74L571.84 104.23L565.69 102.72L559.47 101.21L553.19 99.70L546.85 98.19L540.45 96.68L533.99 95.18L527.47 93.67L520.88 92.16L514.23 90.65L507.53 89.14L500.75 87.63L493.92 86.12L487.03 84.62L480.07 83.11L473.05 81.60L465.97 80.09L458.83 78.58L451.63 77.07L444.37 75.57L437.04 74.06L429.65 72.55L422.20 71.04L414.69 69.53L407.12 68.02L399.48 66.51L391.79 65.01L384.03 63.50L376.21 61.99L368.33 60.48L360.38 58.97L352.38 57.46L344.31 55.96L336.18 54.45L327.99 52.94L319.74 51.43L311.42 49.92L303.05 48.41L294.61 46.90L286.11 45.40L277.55 43.89L268.93 42.38L260.25 40.87L251.50 39.36L242.69 37.85L233.82 36.34L224.89 34.84L215.90 33.33L206.84 31.82L197.73 30.31L188.55 28.80L179.31 27.29L170.01 25.79L160.65 24.28L151.22 22.77L141.73 21.26L132.19 19.75L122.58 18.24L112.90 16.73L103.17 15.23L93.38 13.72L83.52 12.21L73.60 10.70" fill="none" stroke="#FFCD46" stroke-width="1.9"/><text transform="translate(73.00 647.40) scale(1 1.0500)" font-size="29.00" text-anchor="middle">0.00</text><text transform="translate(261.60 647.40) scale(1 1.0500)" font-size="29.00" text-anchor="middle">0.02</text><text transform="translate(450.20 647.40) scale(1 1.0500)" font-size="29.00" text-anchor="middle">0.04</text><text transform="translate(638.80 647.40) scale(1 1.0500)" font-size="29.00" text-anchor="middle">0.06</text><text transform="translate(827.40 647.40) scale(1 1.0500)" font-size="29.00" text-anchor="middle">0.08</text><text transform="translate(68.06 622.50)" font-size="28.47" text-anchor="end">0.0</text><text transform="translate(68.06 501.20)" font-size="28.47" text-anchor="end">0.2</text><text transform="translate(68.06 381.00)" font-size="28.47" text-anchor="end">0.4</text><text transform="translate(68.06 259.60)" font-size="28.47" text-anchor="end">0.6</text><text transform="translate(68.06 139.40)" font-size="28.47" text-anchor="end">0.8</text><text transform="translate(68.06 18.00)" font-size="28.47" text-anchor="end">1.0</text><text transform="translate(379.92 678.10) scale(1 0.9784)" font-size="37.62">Velocity (m/s)</text><text transform="translate(25.60 483.50) rotate(-90) scale(1 0.9733)" font-size="36.78">Fracture aperture (mm)</text><circle cx="650.5" cy="49.5" r="6.6" fill="none" stroke="#333" stroke-width="1.4"/><text transform="translate(660.47 58.30) scale(1 1.0131)" font-size="32.90">: Numerical</text><line x1="639" y1="92.3" x2="673" y2="92.3" stroke="#888" stroke-width="1.6"/><text transform="translate(673.46 100.50) scale(1 1.0248)" font-size="32.95">: Analytical</text><line x1="1401.26" y1="6.7" x2="1401.26" y2="580.7" stroke="#8a8a8a" stroke-width="1.15" stroke-dasharray="3 2.6"/><line x1="1546.52" y1="6.7" x2="1546.52" y2="580.7" stroke="#8a8a8a" stroke-width="1.15" stroke-dasharray="3 2.6"/><line x1="1691.78" y1="6.7" x2="1691.78" y2="580.7" stroke="#8a8a8a" stroke-width="1.15" stroke-dasharray="3 2.6"/><line x1="1837.04" y1="6.7" x2="1837.04" y2="580.7" stroke="#8a8a8a" stroke-width="1.15" stroke-dasharray="3 2.6"/><line x1="1256" y1="536.59" x2="1982.2" y2="536.59" stroke="#c8c8c8" stroke-width="1.3" stroke-dasharray="3.5 3"/><line x1="1256" y1="448.36" x2="1982.2" y2="448.36" stroke="#c8c8c8" stroke-width="1.3" stroke-dasharray="3.5 3"/><line x1="1256" y1="360.12" x2="1982.2" y2="360.12" stroke="#c8c8c8" stroke-width="1.3" stroke-dasharray="3.5 3"/><line x1="1256" y1="271.89" x2="1982.2" y2="271.89" stroke="#c8c8c8" stroke-width="1.3" stroke-dasharray="3.5 3"/><line x1="1256" y1="183.66" x2="1982.2" y2="183.66" stroke="#c8c8c8" stroke-width="1.3" stroke-dasharray="3.5 3"/><line x1="1256" y1="95.44" x2="1982.2" y2="95.44" stroke="#c8c8c8" stroke-width="1.3" stroke-dasharray="3.5 3"/><line x1="1256" y1="7.20" x2="1982.2" y2="7.20" stroke="#c8c8c8" stroke-width="1.3" stroke-dasharray="3.5 3"/><clipPath id="rc"><rect x="1256" y="6.7" width="726.2" height="574.0"/></clipPath><path clip-path="url(#rc)" d="M1256.00 580.70L1257.45 580.66L1258.91 580.58L1260.36 580.45L1261.81 580.29L1263.26 580.10L1264.72 579.86L1266.17 579.60L1267.62 579.29L1269.07 578.96L1270.53 578.60L1271.98 578.20L1273.43 577.78L1274.88 577.33L1276.34 576.86L1277.79 576.35L1279.24 575.83L1280.69 575.27L1282.15 574.70L1283.60 574.10L1285.05 573.48L1286.50 572.84L1287.96 572.18L1289.41 571.50L1290.86 570.81L1292.32 570.09L1293.77 569.35L1295.22 568.60L1296.67 567.83L1298.13 567.05L1299.58 566.25L1301.03 565.43L1302.48 564.60L1303.94 563.75L1305.39 562.90L1306.84 562.02L1308.29 561.14L1309.75 560.24L1311.20 559.33L1312.65 558.41L1314.10 557.47L1315.56 556.52L1317.01 555.57L1318.46 554.60L1319.91 553.62L1321.37 552.63L1322.82 551.64L1324.27 550.63L1325.72 549.61L1327.18 548.59L1328.63 547.55L1330.08 546.51L1331.54 545.46L1332.99 544.40L1334.44 543.33L1335.89 542.25L1337.35 541.17L1338.80 540.08L1340.25 538.98L1341.70 537.88L1343.16 536.77L1344.61 535.65L1346.06 534.52L1347.51 533.39L1348.97 532.26L1350.42 531.11L1351.87 529.96L1353.32 528.81L1354.78 527.65L1356.23 526.48L1357.68 525.31L1359.13 524.14L1360.59 522.95L1362.04 521.77L1363.49 520.58L1364.94 519.38L1366.40 518.18L1367.85 516.97L1369.30 515.77L1370.76 514.55L1372.21 513.33L1373.66 512.11L1375.11 510.88L1376.57 509.65L1378.02 508.42L1379.47 507.18L1380.92 505.94L1382.38 504.70L1383.83 503.45L1385.28 502.19L1386.73 500.94L1388.19 499.68L1389.64 498.42L1391.09 497.15L1392.54 495.88L1394.00 494.61L1395.45 493.34L1396.90 492.06L1398.35 490.78L1399.81 489.49L1401.26 488.21L1402.71 486.92L1404.17 485.63L1405.62 484.33L1407.07 483.04L1408.52 481.74L1409.98 480.43L1411.43 479.13L1412.88 477.82L1414.33 476.51L1415.79 475.20L1417.24 473.89L1418.69 472.57L1420.14 471.26L1421.60 469.94L1423.05 468.61L1424.50 467.29L1425.95 465.96L1427.41 464.64L1428.86 463.31L1430.31 461.97L1431.76 460.64L1433.22 459.31L1434.67 457.97L1436.12 456.63L1437.58 455.29L1439.03 453.95L1440.48 452.60L1441.93 451.26L1443.39 449.91L1444.84 448.56L1446.29 447.21L1447.74 445.86L1449.20 444.50L1450.65 443.15L1452.10 441.79L1453.55 440.43L1455.01 439.07L1456.46 437.71L1457.91 436.35L1459.36 434.99L1460.82 433.62L1462.27 432.26L1463.72 430.89L1465.17 429.52L1466.63 428.15L1468.08 426.78L1469.53 425.41L1470.98 424.04L1472.44 422.66L1473.89 421.29L1475.34 419.91L1476.80 418.53L1478.25 417.15L1479.70 415.77L1481.15 414.39L1482.61 413.01L1484.06 411.63L1485.51 410.24L1486.96 408.86L1488.42 407.47L1489.87 406.08L1491.32 404.70L1492.77 403.31L1494.23 401.92L1495.68 400.53L1497.13 399.14L1498.58 397.74L1500.04 396.35L1501.49 394.96L1502.94 393.56L1504.39 392.17L1505.85 390.77L1507.30 389.37L1508.75 387.97L1510.20 386.57L1511.66 385.17L1513.11 383.77L1514.56 382.37L1516.02 380.97L1517.47 379.57L1518.92 378.17L1520.37 376.76L1521.83 375.36L1523.28 373.95L1524.73 372.55L1526.18 371.14L1527.64 369.73L1529.09 368.32L1530.54 366.91L1531.99 365.51L1533.45 364.10L1534.90 362.69L1536.35 361.27L1537.80 359.86L1539.26 358.45L1540.71 357.04L1542.16 355.62L1543.61 354.21L1545.07 352.80L1546.52 351.38L1547.97 349.97L1549.43 348.55L1550.88 347.13L1552.33 345.72L1553.78 344.30L1555.24 342.88L1556.69 341.46L1558.14 340.04L1559.59 338.62L1561.05 337.20L1562.50 335.78L1563.95 334.36L1565.40 332.94L1566.86 331.52L1568.31 330.09L1569.76 328.67L1571.21 327.25L1572.67 325.83L1574.12 324.40L1575.57 322.98L1577.02 321.55L1578.48 320.13L1579.93 318.70L1581.38 317.27L1582.84 315.85L1584.29 314.42L1585.74 312.99L1587.19 311.57L1588.65 310.14L1590.10 308.71L1591.55 307.28L1593.00 305.85L1594.46 304.42L1595.91 302.99L1597.36 301.56L1598.81 300.13L1600.27 298.70L1601.72 297.27L1603.17 295.84L1604.62 294.40L1606.08 292.97L1607.53 291.54L1608.98 290.11L1610.43 288.67L1611.89 287.24L1613.34 285.81L1614.79 284.37L1616.24 282.94L1617.70 281.50L1619.15 280.07L1620.60 278.63L1622.06 277.20L1623.51 275.76L1624.96 274.33L1626.41 272.89L1627.87 271.45L1629.32 270.01L1630.77 268.58L1632.22 267.14L1633.68 265.70L1635.13 264.26L1636.58 262.83L1638.03 261.39L1639.49 259.95L1640.94 258.51L1642.39 257.07L1643.84 255.63L1645.30 254.19L1646.75 252.75L1648.20 251.31L1649.65 249.87L1651.11 248.43L1652.56 246.99L1654.01 245.55L1655.46 244.11L1656.92 242.66L1658.37 241.22L1659.82 239.78L1661.28 238.34L1662.73 236.90L1664.18 235.45L1665.63 234.01L1667.09 232.57L1668.54 231.12L1669.99 229.68L1671.44 228.24L1672.90 226.79L1674.35 225.35L1675.80 223.90L1677.25 222.46L1678.71 221.01L1680.16 219.57L1681.61 218.12L1683.06 216.68L1684.52 215.23L1685.97 213.79L1687.42 212.34L1688.87 210.90L1690.33 209.45L1691.78 208.00L1693.23 206.56L1694.69 205.11L1696.14 203.66L1697.59 202.22L1699.04 200.77L1700.50 199.32L1701.95 197.88L1703.40 196.43L1704.85 194.98L1706.31 193.53L1707.76 192.08L1709.21 190.64L1710.66 189.19L1712.12 187.74L1713.57 186.29L1715.02 184.84L1716.47 183.39L1717.93 181.94L1719.38 180.50L1720.83 179.05L1722.28 177.60L1723.74 176.15L1725.19 174.70L1726.64 173.25L1728.10 171.80L1729.55 170.35L1731.00 168.90L1732.45 167.45L1733.91 166.00L1735.36 164.54L1736.81 163.09L1738.26 161.64L1739.72 160.19L1741.17 158.74L1742.62 157.29L1744.07 155.84L1745.53 154.39L1746.98 152.93L1748.43 151.48L1749.88 150.03L1751.34 148.58L1752.79 147.13L1754.24 145.67L1755.69 144.22L1757.15 142.77L1758.60 141.32L1760.05 139.86L1761.50 138.41L1762.96 136.96L1764.41 135.50L1765.86 134.05L1767.32 132.60L1768.77 131.15L1770.22 129.69L1771.67 128.24L1773.13 126.78L1774.58 125.33L1776.03 123.88L1777.48 122.42L1778.94 120.97L1780.39 119.51L1781.84 118.06L1783.29 116.61L1784.75 115.15L1786.20 113.70L1787.65 112.24L1789.10 110.79L1790.56 109.33L1792.01 107.88L1793.46 106.42L1794.91 104.97L1796.37 103.51L1797.82 102.06L1799.27 100.60L1800.72 99.15L1802.18 97.69L1803.63 96.24L1805.08 94.78L1806.54 93.32L1807.99 91.87L1809.44 90.41L1810.89 88.96L1812.35 87.50L1813.80 86.04L1815.25 84.59L1816.70 83.13L1818.16 81.67L1819.61 80.22L1821.06 78.76L1822.51 77.30L1823.97 75.85L1825.42 74.39L1826.87 72.93L1828.32 71.48L1829.78 70.02L1831.23 68.56L1832.68 67.11L1834.13 65.65L1835.59 64.19L1837.04 62.73L1838.49 61.28L1839.95 59.82L1841.40 58.36L1842.85 56.90L1844.30 55.45L1845.76 53.99L1847.21 52.53L1848.66 51.07L1850.11 49.61L1851.57 48.16L1853.02 46.70L1854.47 45.24L1855.92 43.78L1857.38 42.32L1858.83 40.87L1860.28 39.41L1861.73 37.95L1863.19 36.49L1864.64 35.03L1866.09 33.57L1867.54 32.11L1869.00 30.65L1870.45 29.20L1871.90 27.74L1873.36 26.28L1874.81 24.82L1876.26 23.36L1877.71 21.90L1879.17 20.44L1880.62 18.98L1882.07 17.52L1883.52 16.06L1884.98 14.60L1886.43 13.14L1887.88 11.69L1889.33 10.23L1890.79 8.77L1892.24 7.31L1893.69 5.85" fill="none" stroke="#1E3CFF" stroke-width="4.2" stroke-linejoin="round"/><circle cx="1399.4" cy="492.5" r="5.3" fill="none" stroke="#D81818" stroke-width="2.5"/><circle cx="1502.8" cy="405.4" r="5.3" fill="none" stroke="#D81818" stroke-width="2.5"/><circle cx="1592.0" cy="317.4" r="5.3" fill="none" stroke="#D81818" stroke-width="2.5"/><circle cx="1687.3" cy="229.8" r="5.3" fill="none" stroke="#D81818" stroke-width="2.5"/><circle cx="1779.0" cy="141.8" r="5.3" fill="none" stroke="#D81818" stroke-width="2.5"/><circle cx="1867.7" cy="53.7" r="5.3" fill="none" stroke="#D81818" stroke-width="2.5"/><line x1="1328.63" y1="580.7" x2="1328.63" y2="574.7" stroke="#000" stroke-width="2.2"/><line x1="1328.63" y1="6.7" x2="1328.63" y2="12.7" stroke="#000" stroke-width="2.2"/><line x1="1401.26" y1="580.7" x2="1401.26" y2="569.7" stroke="#000" stroke-width="2.2"/><line x1="1401.26" y1="6.7" x2="1401.26" y2="17.7" stroke="#000" stroke-width="2.2"/><line x1="1473.89" y1="580.7" x2="1473.89" y2="574.7" stroke="#000" stroke-width="2.2"/><line x1="1473.89" y1="6.7" x2="1473.89" y2="12.7" stroke="#000" stroke-width="2.2"/><line x1="1546.52" y1="580.7" x2="1546.52" y2="569.7" stroke="#000" stroke-width="2.2"/><line x1="1546.52" y1="6.7" x2="1546.52" y2="17.7" stroke="#000" stroke-width="2.2"/><line x1="1619.15" y1="580.7" x2="1619.15" y2="574.7" stroke="#000" stroke-width="2.2"/><line x1="1619.15" y1="6.7" x2="1619.15" y2="12.7" stroke="#000" stroke-width="2.2"/><line x1="1691.78" y1="580.7" x2="1691.78" y2="569.7" stroke="#000" stroke-width="2.2"/><line x1="1691.78" y1="6.7" x2="1691.78" y2="17.7" stroke="#000" stroke-width="2.2"/><line x1="1764.41" y1="580.7" x2="1764.41" y2="574.7" stroke="#000" stroke-width="2.2"/><line x1="1764.41" y1="6.7" x2="1764.41" y2="12.7" stroke="#000" stroke-width="2.2"/><line x1="1837.04" y1="580.7" x2="1837.04" y2="569.7" stroke="#000" stroke-width="2.2"/><line x1="1837.04" y1="6.7" x2="1837.04" y2="17.7" stroke="#000" stroke-width="2.2"/><line x1="1909.67" y1="580.7" x2="1909.67" y2="574.7" stroke="#000" stroke-width="2.2"/><line x1="1909.67" y1="6.7" x2="1909.67" y2="12.7" stroke="#000" stroke-width="2.2"/><line x1="1256" y1="536.59" x2="1262.5" y2="536.59" stroke="#000" stroke-width="2.2"/><line x1="1982.2" y1="536.59" x2="1975.7" y2="536.59" stroke="#000" stroke-width="2.2"/><line x1="1256" y1="492.47" x2="1267.5" y2="492.47" stroke="#000" stroke-width="2.2"/><line x1="1982.2" y1="492.47" x2="1970.7" y2="492.47" stroke="#000" stroke-width="2.2"/><line x1="1256" y1="448.36" x2="1262.5" y2="448.36" stroke="#000" stroke-width="2.2"/><line x1="1982.2" y1="448.36" x2="1975.7" y2="448.36" stroke="#000" stroke-width="2.2"/><line x1="1256" y1="404.24" x2="1267.5" y2="404.24" stroke="#000" stroke-width="2.2"/><line x1="1982.2" y1="404.24" x2="1970.7" y2="404.24" stroke="#000" stroke-width="2.2"/><line x1="1256" y1="360.12" x2="1262.5" y2="360.12" stroke="#000" stroke-width="2.2"/><line x1="1982.2" y1="360.12" x2="1975.7" y2="360.12" stroke="#000" stroke-width="2.2"/><line x1="1256" y1="316.01" x2="1267.5" y2="316.01" stroke="#000" stroke-width="2.2"/><line x1="1982.2" y1="316.01" x2="1970.7" y2="316.01" stroke="#000" stroke-width="2.2"/><line x1="1256" y1="271.89" x2="1262.5" y2="271.89" stroke="#000" stroke-width="2.2"/><line x1="1982.2" y1="271.89" x2="1975.7" y2="271.89" stroke="#000" stroke-width="2.2"/><line x1="1256" y1="227.78" x2="1267.5" y2="227.78" stroke="#000" stroke-width="2.2"/><line x1="1982.2" y1="227.78" x2="1970.7" y2="227.78" stroke="#000" stroke-width="2.2"/><line x1="1256" y1="183.66" x2="1262.5" y2="183.66" stroke="#000" stroke-width="2.2"/><line x1="1982.2" y1="183.66" x2="1975.7" y2="183.66" stroke="#000" stroke-width="2.2"/><line x1="1256" y1="139.55" x2="1267.5" y2="139.55" stroke="#000" stroke-width="2.2"/><line x1="1982.2" y1="139.55" x2="1970.7" y2="139.55" stroke="#000" stroke-width="2.2"/><line x1="1256" y1="95.44" x2="1262.5" y2="95.44" stroke="#000" stroke-width="2.2"/><line x1="1982.2" y1="95.44" x2="1975.7" y2="95.44" stroke="#000" stroke-width="2.2"/><line x1="1256" y1="51.32" x2="1267.5" y2="51.32" stroke="#000" stroke-width="2.2"/><line x1="1982.2" y1="51.32" x2="1970.7" y2="51.32" stroke="#000" stroke-width="2.2"/><rect x="1256" y="6.7" width="726.2" height="574.0" fill="none" stroke="#111" stroke-width="2.1"/><text transform="translate(1256.00 617.20)" font-size="33.40" text-anchor="middle">1000</text><text transform="translate(1401.26 617.20)" font-size="33.40" text-anchor="middle">2000</text><text transform="translate(1546.52 617.20)" font-size="33.40" text-anchor="middle">3000</text><text transform="translate(1691.78 617.20)" font-size="33.40" text-anchor="middle">4000</text><text transform="translate(1837.04 617.20)" font-size="33.40" text-anchor="middle">5000</text><text transform="translate(1982.30 617.20)" font-size="33.40" text-anchor="middle">6000</text><text transform="translate(1243.30 589.96) scale(1 1.0400)" font-size="32.85" text-anchor="end">0.0E+0</text><text transform="translate(1243.30 501.73) scale(1 1.0400)" font-size="32.85" text-anchor="end">5.0E-7</text><text transform="translate(1243.30 413.50) scale(1 1.0400)" font-size="32.85" text-anchor="end">1.0E-6</text><text transform="translate(1243.30 325.27) scale(1 1.0400)" font-size="32.85" text-anchor="end">1.5E-6</text><text transform="translate(1243.30 237.04) scale(1 1.0400)" font-size="32.85" text-anchor="end">2.0E-6</text><text transform="translate(1243.30 148.81) scale(1 1.0400)" font-size="32.85" text-anchor="end">2.5E-6</text><text transform="translate(1243.30 60.58) scale(1 1.0400)" font-size="32.85" text-anchor="end">3.0E-6</text><text transform="translate(1406.92 666.60) scale(1 0.9709)" font-size="42.51">Pressure differential (Pa)</text><text transform="translate(1131.20 365.09) rotate(-90)" font-size="42.37">Q (m<tspan dy="-17.37" font-size="27.97">3</tspan><tspan dy="17.37">/s)</tspan></text><circle cx="1341.5" cy="28.3" r="5.2" fill="none" stroke="#D81818" stroke-width="2.2"/><text transform="translate(1386.93 39.90) scale(1 1.0326)" font-size="32.42">Numerical</text><line x1="1303" y1="70" x2="1381.5" y2="70" stroke="#1E3CFF" stroke-width="4.2"/><text transform="translate(1388.18 80.40) scale(1 0.9924)" font-size="31.98">Analytical</text><text transform="translate(322.37 746.00) scale(1 0.9956)" font-size="38.34">(a) Velocity profile</text><text transform="translate(1230.50 746.20) scale(1 1.0109)" font-size="37.60">(b) Flow rate and pressure differential</text></svg>
</body></html>
